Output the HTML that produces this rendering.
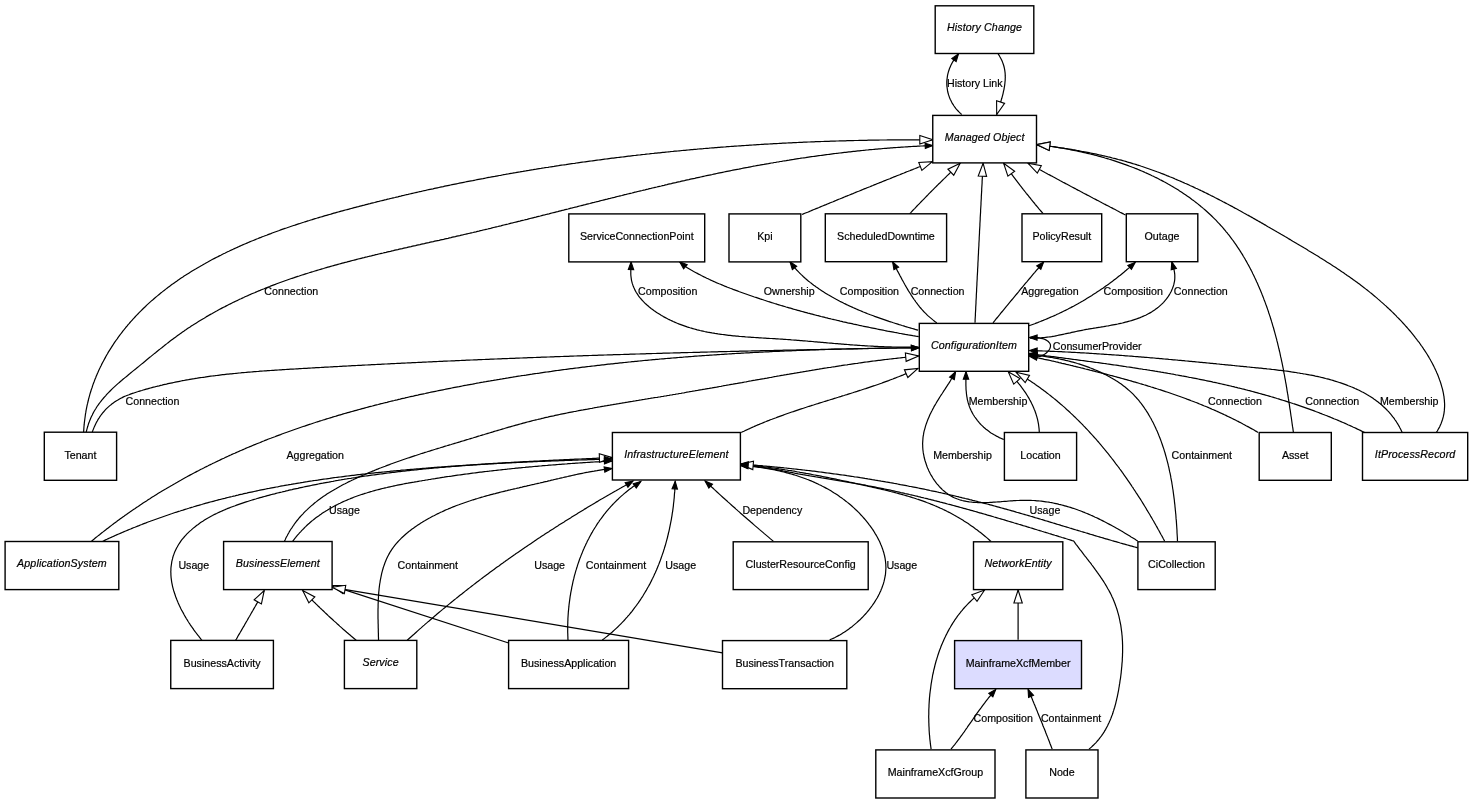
<!DOCTYPE html><html><head><meta charset="utf-8"><style>html,body{margin:0;padding:0;background:#fff;overflow:hidden}svg{display:block;will-change:transform}text{font-family:"Liberation Sans",sans-serif;font-size:10.67px;fill:#000;stroke:#000;stroke-width:0.2px}.i{font-style:italic;letter-spacing:0.12px}</style></head><body>
<svg width="1473" height="804" viewBox="0 0 1473 804">
<g fill="none" stroke="#000" stroke-width="1.2">
<path d="M961.7,114.5L960.4,113.4L959.2,112.2L958.1,111.0L957.0,109.8L955.9,108.6L955.0,107.3L954.0,106.0L953.2,104.7L952.3,103.4L951.6,102.0L950.9,100.6L950.2,99.2L949.6,97.8L949.1,96.4L948.6,94.9L948.2,93.5L947.8,92.0L947.5,90.5L947.3,89.0L947.1,87.5L946.9,86.1L946.8,84.6L946.8,83.1L946.8,81.6L946.9,80.1L947.1,78.6L947.3,77.1L947.5,75.6L947.8,74.1L948.2,72.7L948.6,71.2L949.1,69.8L949.6,68.3L950.2,66.9L950.8,65.5L951.5,64.1L952.2,62.8L953.0,61.4L953.8,60.1L954.7,58.8L955.6,57.6L956.5,56.3L957.5,55.1L958.5,53.9"/>
<path d="M998.1,53.9L999.1,55.3L999.9,56.8L1000.7,58.2L1001.5,59.7L1002.1,61.1L1002.7,62.6L1003.2,64.0L1003.7,65.5L1004.1,67.0L1004.4,68.4L1004.7,69.9L1004.9,71.4L1005.1,72.9L1005.2,74.4L1005.2,75.9L1005.3,77.4L1005.2,78.8L1005.2,80.3L1005.0,81.8L1004.9,83.3L1004.7,84.8L1004.5,86.3L1004.2,87.8L1004.0,89.3L1003.6,90.8L1003.3,92.3L1003.0,93.8L1002.6,95.3L1002.2,96.8L1001.8,98.3L1001.3,99.8L1000.9,101.3L1000.4,102.8L1000.0,104.2L999.5,105.7L999.0,107.2L998.6,108.7L998.1,110.1L997.6,111.6L997.2,113.0L996.7,114.5"/>
<path d="M83.6,432.5L83.7,430.9L83.8,429.4L83.9,427.8L84.0,426.2L84.2,424.7L84.3,423.1L84.5,421.6L84.7,420.0L84.9,418.5L85.1,417.0L85.3,415.5L85.5,413.9L85.8,412.4L86.0,410.9L86.3,409.4L86.6,407.9L86.9,406.4L87.2,404.9L87.6,403.4L87.9,402.0L88.3,400.5L88.6,399.0L89.0,397.6L89.4,396.1L89.8,394.7L90.2,393.2L90.7,391.8L91.1,390.3L91.6,388.9L92.1,387.5L92.5,386.1L93.0,384.6L93.5,383.2L94.1,381.8L94.6,380.4L95.1,379.0L95.7,377.7L96.2,376.3L96.8,374.9L97.4,373.5L98.0,372.2L98.6,370.8L99.2,369.5L99.9,368.1L100.5,366.8L101.2,365.4L101.8,364.1L102.5,362.8L103.2,361.5L103.9,360.2L104.6,358.9L105.3,357.6L106.0,356.3L106.7,355.0L107.5,353.7L108.2,352.4L109.0,351.1L109.8,349.9L110.6,348.6L111.4,347.4L112.2,346.1L113.0,344.9L113.8,343.6L114.6,342.4L115.5,341.2L116.3,340.0L117.2,338.8L118.0,337.6L118.9,336.4L119.8,335.2L120.7,334.0L121.6,332.8L122.5,331.6L123.4,330.5L124.3,329.3L125.3,328.2L126.2,327.0L127.2,325.9L128.1,324.7L129.1,323.6L130.0,322.5L131.0,321.4L132.0,320.3L133.0,319.2L134.0,318.1L135.0,317.0L136.0,315.9L137.0,314.8L138.1,313.8L139.1,312.7L140.2,311.6L141.2,310.6L142.3,309.5L143.3,308.5L144.4,307.5L145.5,306.5L146.5,305.4L147.6,304.4L148.7,303.4L149.8,302.4L150.9,301.4L152.0,300.4L153.2,299.5L154.3,298.5L155.4,297.5L156.5,296.6L157.7,295.6L158.8,294.7L160.0,293.7L161.1,292.8L162.3,291.9L163.5,290.9L164.7,290.0L165.8,289.1L167.0,288.2L168.2,287.3L169.4,286.4L170.6,285.5L171.8,284.6L173.0,283.8L174.2,282.9L175.5,282.0L176.7,281.2L177.9,280.3L179.1,279.5L180.4,278.6L181.6,277.8L182.9,277.0L184.1,276.1L185.4,275.3L186.6,274.5L187.9,273.7L189.2,272.9L190.5,272.1L191.7,271.3L193.0,270.5L194.3,269.7L195.6,269.0L196.9,268.2L198.2,267.4L199.5,266.7L200.8,265.9L202.1,265.2L203.4,264.4L204.7,263.7L206.0,262.9L207.4,262.2L208.7,261.5L210.0,260.8L211.3,260.1L212.7,259.3L214.0,258.6L215.4,257.9L216.7,257.2L218.0,256.6L219.4,255.9L220.8,255.2L222.1,254.5L223.5,253.8L224.8,253.2L226.2,252.5L227.6,251.8L228.9,251.2L230.3,250.5L231.7,249.9L233.0,249.3L234.4,248.6L235.8,248.0L237.2,247.4L238.6,246.7L239.9,246.1L241.3,245.5L242.7,244.9L244.1,244.3L245.5,243.7L246.9,243.1L248.3,242.5L249.7,241.9L251.1,241.3L252.5,240.8L253.9,240.2L255.3,239.6L256.7,239.0L258.1,238.5L259.5,237.9L260.9,237.4L262.3,236.8L263.7,236.3L265.1,235.7L266.6,235.2L268.0,234.6L269.4,234.1L270.8,233.6L272.2,233.0L273.6,232.5L275.0,232.0L276.5,231.5L277.9,231.0L279.3,230.5L280.7,229.9L282.1,229.4L283.6,228.9L285.0,228.4L286.4,228.0L287.8,227.5L289.3,227.0L290.7,226.5L292.1,226.0L293.6,225.5L295.0,225.1L296.4,224.6L297.8,224.1L299.3,223.7L300.7,223.2L302.1,222.7L303.6,222.3L305.0,221.8L306.4,221.4L307.9,220.9L309.3,220.5L310.8,220.0L312.2,219.6L313.6,219.1L315.1,218.7L316.5,218.3L318.0,217.8L319.4,217.4L320.8,217.0L322.3,216.6L323.7,216.1L325.2,215.7L326.6,215.3L328.1,214.9L329.5,214.5L330.9,214.1L332.4,213.6L333.8,213.2L335.3,212.8L336.7,212.4L338.2,212.0L339.6,211.6L341.1,211.2L342.5,210.8L344.0,210.4L345.4,210.0L346.9,209.7L348.3,209.3L349.8,208.9L351.2,208.5L352.7,208.1L354.1,207.7L355.6,207.3L357.1,206.9L358.5,206.6L360.0,206.2L361.4,205.8L362.9,205.4L364.3,205.1L365.8,204.7L367.2,204.3L368.7,203.9L370.1,203.6L371.6,203.2L373.1,202.8L374.5,202.5L376.0,202.1L377.4,201.7L378.9,201.4L380.3,201.0L381.8,200.7L383.3,200.3L384.7,199.9L386.2,199.6L387.6,199.2L389.1,198.9L390.6,198.5L392.0,198.2L393.5,197.8L394.9,197.5L396.4,197.1L397.9,196.8L399.3,196.4L400.8,196.1L402.2,195.7L403.7,195.4L405.2,195.0L406.6,194.7L408.1,194.4L409.6,194.0L411.0,193.7L412.5,193.3L413.9,193.0L415.4,192.7L416.9,192.3L418.3,192.0L419.8,191.7L421.3,191.4L422.7,191.0L424.2,190.7L425.7,190.4L427.1,190.0L428.6,189.7L430.1,189.4L431.5,189.1L433.0,188.8L434.5,188.4L435.9,188.1L437.4,187.8L438.9,187.5L440.3,187.2L441.8,186.9L443.3,186.6L444.7,186.2L446.2,185.9L447.7,185.6L449.1,185.3L450.6,185.0L452.1,184.7L453.6,184.4L455.0,184.1L456.5,183.8L458.0,183.5L459.4,183.2L460.9,182.9L462.4,182.6L463.8,182.3L465.3,182.0L466.8,181.7L468.3,181.4L469.7,181.1L471.2,180.8L472.7,180.6L474.2,180.3L475.6,180.0L477.1,179.7L478.6,179.4L480.1,179.1L481.5,178.8L483.0,178.6L484.5,178.3L485.9,178.0L487.4,177.7L488.9,177.4L490.4,177.2L491.8,176.9L493.3,176.6L494.8,176.4L496.3,176.1L497.8,175.8L499.2,175.5L500.7,175.3L502.2,175.0L503.7,174.7L505.1,174.5L506.6,174.2L508.1,174.0L509.6,173.7L511.1,173.4L512.5,173.2L514.0,172.9L515.5,172.7L517.0,172.4L518.4,172.1L519.9,171.9L521.4,171.6L522.9,171.4L524.4,171.1L525.8,170.9L527.3,170.6L528.8,170.4L530.3,170.1L531.8,169.9L533.2,169.7L534.7,169.4L536.2,169.2L537.7,168.9L539.2,168.7L540.7,168.5L542.1,168.2L543.6,168.0L545.1,167.7L546.6,167.5L548.1,167.3L549.6,167.0L551.0,166.8L552.5,166.6L554.0,166.4L555.5,166.1L557.0,165.9L558.5,165.7L559.9,165.4L561.4,165.2L562.9,165.0L564.4,164.8L565.9,164.6L567.4,164.3L568.8,164.1L570.3,163.9L571.8,163.7L573.3,163.5L574.8,163.3L576.3,163.0L577.8,162.8L579.2,162.6L580.7,162.4L582.2,162.2L583.7,162.0L585.2,161.8L586.7,161.6L588.2,161.4L589.7,161.2L591.1,161.0L592.6,160.8L594.1,160.6L595.6,160.4L597.1,160.2L598.6,160.0L600.1,159.8L601.6,159.6L603.1,159.4L604.5,159.2L606.0,159.0L607.5,158.8L609.0,158.6L610.5,158.4L612.0,158.2L613.5,158.1L615.0,157.9L616.5,157.7L617.9,157.5L619.4,157.3L620.9,157.1L622.4,157.0L623.9,156.8L625.4,156.6L626.9,156.4L628.4,156.2L629.9,156.1L631.4,155.9L632.9,155.7L634.4,155.5L635.8,155.4L637.3,155.2L638.8,155.0L640.3,154.9L641.8,154.7L643.3,154.5L644.8,154.4L646.3,154.2L647.8,154.0L649.3,153.9L650.8,153.7L652.3,153.5L653.8,153.4L655.2,153.2L656.7,153.1L658.2,152.9L659.7,152.8L661.2,152.6L662.7,152.4L664.2,152.3L665.7,152.1L667.2,152.0L668.7,151.8L670.2,151.7L671.7,151.5L673.2,151.4L674.7,151.2L676.2,151.1L677.7,151.0L679.2,150.8L680.7,150.7L682.2,150.5L683.6,150.4L685.1,150.3L686.6,150.1L688.1,150.0L689.6,149.8L691.1,149.7L692.6,149.6L694.1,149.4L695.6,149.3L697.1,149.2L698.6,149.0L700.1,148.9L701.6,148.8L703.1,148.7L704.6,148.5L706.1,148.4L707.6,148.3L709.1,148.2L710.6,148.0L712.1,147.9L713.6,147.8L715.1,147.7L716.6,147.6L718.1,147.4L719.6,147.3L721.1,147.2L722.6,147.1L724.1,147.0L725.6,146.9L727.1,146.7L728.6,146.6L730.1,146.5L731.6,146.4L733.1,146.3L734.6,146.2L736.1,146.1L737.6,146.0L739.1,145.9L740.6,145.8L742.1,145.7L743.6,145.6L745.1,145.5L746.6,145.4L748.1,145.3L749.6,145.2L751.1,145.1L752.6,145.0L754.1,144.9L755.6,144.8L757.1,144.7L758.6,144.6L760.1,144.5L761.6,144.4L763.1,144.3L764.6,144.2L766.1,144.1L767.6,144.1L769.1,144.0L770.6,143.9L772.1,143.8L773.6,143.7L775.1,143.6L776.6,143.6L778.1,143.5L779.6,143.4L781.1,143.3L782.6,143.2L784.1,143.2L785.6,143.1L787.1,143.0L788.6,142.9L790.1,142.9L791.6,142.8L793.1,142.7L794.6,142.6L796.1,142.6L797.6,142.5L799.1,142.4L800.6,142.4L802.1,142.3L803.6,142.2L805.1,142.2L806.6,142.1L808.1,142.0L809.6,142.0L811.1,141.9L812.6,141.9L814.1,141.8L815.6,141.7L817.1,141.7L818.6,141.6L820.1,141.6L821.6,141.5L823.1,141.5L824.6,141.4L826.1,141.4L827.6,141.3L829.1,141.3L830.6,141.2L832.1,141.2L833.6,141.1L835.1,141.1L836.6,141.0L838.1,141.0L839.6,140.9L841.1,140.9L842.6,140.8L844.1,140.8L845.6,140.8L847.1,140.7L848.6,140.7L850.1,140.6L851.7,140.6L853.2,140.6L854.7,140.5L856.2,140.5L857.7,140.5L859.2,140.4L860.7,140.4L862.2,140.4L863.7,140.3L865.2,140.3L866.7,140.3L868.2,140.2L869.7,140.2L871.2,140.2L872.7,140.2L874.2,140.1L875.7,140.1L877.2,140.1L878.7,140.1L880.2,140.0L881.7,140.0L883.2,140.0L884.7,140.0L886.2,140.0L887.7,139.9L889.2,139.9L890.7,139.9L892.2,139.9L893.7,139.9L895.2,139.9L896.7,139.9L898.2,139.8L899.7,139.8L901.2,139.8L902.7,139.8L904.2,139.8L905.8,139.8L907.3,139.8L908.8,139.8L910.3,139.8L911.8,139.8L913.3,139.8L914.8,139.8L916.3,139.8L917.8,139.8L919.3,139.8L920.8,139.8L922.3,139.8L923.8,139.8L925.3,139.8L926.8,139.8L928.3,139.8L929.8,139.8L931.3,139.8L932.8,139.8"/>
<path d="M86.2,432.5L86.5,430.9L86.9,429.3L87.3,427.8L87.8,426.3L88.2,424.8L88.7,423.3L89.3,421.8L89.8,420.4L90.4,419.0L91.0,417.6L91.6,416.3L92.3,414.9L92.9,413.6L93.6,412.3L94.3,411.0L95.1,409.7L95.9,408.5L96.6,407.3L97.4,406.0L98.3,404.8L99.1,403.7L100.0,402.5L100.9,401.3L101.8,400.2L102.7,399.1L103.6,398.0L104.6,396.9L105.6,395.8L106.5,394.7L107.5,393.6L108.5,392.6L109.6,391.5L110.6,390.5L111.7,389.4L112.7,388.4L113.8,387.4L114.9,386.4L116.0,385.4L117.1,384.4L118.2,383.4L119.3,382.5L120.4,381.5L121.6,380.5L122.7,379.5L123.9,378.6L125.0,377.6L126.2,376.7L127.4,375.7L128.5,374.7L129.7,373.8L130.9,372.8L132.0,371.9L133.2,370.9L134.4,369.9L135.6,369.0L136.8,368.0L138.0,367.1L139.1,366.1L140.3,365.1L141.5,364.1L142.7,363.2L143.9,362.2L145.1,361.2L146.2,360.3L147.4,359.3L148.6,358.3L149.8,357.3L151.0,356.4L152.2,355.4L153.4,354.4L154.6,353.4L155.8,352.5L157.0,351.5L158.2,350.5L159.4,349.6L160.6,348.6L161.8,347.7L163.0,346.7L164.2,345.8L165.4,344.8L166.6,343.9L167.8,342.9L169.0,342.0L170.2,341.1L171.5,340.1L172.7,339.2L173.9,338.3L175.1,337.4L176.4,336.5L177.6,335.6L178.8,334.7L180.1,333.8L181.3,332.9L182.5,332.1L183.8,331.2L185.0,330.3L186.3,329.5L187.5,328.6L188.8,327.8L190.1,327.0L191.3,326.1L192.6,325.3L193.8,324.5L195.1,323.7L196.4,322.9L197.7,322.1L198.9,321.3L200.2,320.5L201.5,319.7L202.8,318.9L204.1,318.2L205.4,317.4L206.6,316.6L207.9,315.9L209.2,315.1L210.5,314.4L211.8,313.7L213.1,312.9L214.4,312.2L215.7,311.5L217.1,310.8L218.4,310.0L219.7,309.3L221.0,308.6L222.3,307.9L223.6,307.2L225.0,306.6L226.3,305.9L227.6,305.2L228.9,304.5L230.3,303.9L231.6,303.2L232.9,302.5L234.3,301.9L235.6,301.2L237.0,300.6L238.3,300.0L239.6,299.3L241.0,298.7L242.3,298.1L243.7,297.5L245.0,296.8L246.4,296.2L247.8,295.6L249.1,295.0L250.5,294.4L251.8,293.8L253.2,293.2L254.6,292.7L255.9,292.1L257.3,291.5L258.7,290.9L260.1,290.4L261.4,289.8L262.8,289.2L264.2,288.7L265.6,288.1L267.0,287.6L268.3,287.0L269.7,286.5L271.1,285.9L272.5,285.4L273.9,284.9L275.3,284.4L276.7,283.8L278.1,283.3L279.5,282.8L280.9,282.3L282.3,281.8L283.7,281.3L285.1,280.8L286.5,280.3L287.9,279.8L289.3,279.3L290.7,278.8L292.1,278.3L293.5,277.9L294.9,277.4L296.3,276.9L297.8,276.4L299.2,276.0L300.6,275.5L302.0,275.0L303.4,274.6L304.9,274.1L306.3,273.7L307.7,273.2L309.1,272.8L310.6,272.3L312.0,271.9L313.4,271.5L314.9,271.0L316.3,270.6L317.7,270.2L319.1,269.7L320.6,269.3L322.0,268.9L323.5,268.5L324.9,268.0L326.3,267.6L327.8,267.2L329.2,266.8L330.7,266.4L332.1,266.0L333.6,265.6L335.0,265.2L336.4,264.8L337.9,264.4L339.3,264.0L340.8,263.6L342.2,263.2L343.7,262.8L345.1,262.4L346.6,262.1L348.1,261.7L349.5,261.3L351.0,260.9L352.4,260.5L353.9,260.2L355.3,259.8L356.8,259.4L358.2,259.0L359.7,258.7L361.2,258.3L362.6,257.9L364.1,257.6L365.6,257.2L367.0,256.9L368.5,256.5L369.9,256.1L371.4,255.8L372.9,255.4L374.3,255.1L375.8,254.7L377.3,254.4L378.7,254.0L380.2,253.7L381.7,253.3L383.1,253.0L384.6,252.6L386.1,252.3L387.6,251.9L389.0,251.6L390.5,251.3L392.0,250.9L393.4,250.6L394.9,250.2L396.4,249.9L397.9,249.6L399.3,249.2L400.8,248.9L402.3,248.6L403.8,248.2L405.2,247.9L406.7,247.6L408.2,247.2L409.7,246.9L411.1,246.6L412.6,246.2L414.1,245.9L415.6,245.6L417.0,245.2L418.5,244.9L420.0,244.6L421.5,244.2L422.9,243.9L424.4,243.6L425.9,243.2L427.4,242.9L428.8,242.6L430.3,242.2L431.8,241.9L433.3,241.6L434.7,241.2L436.2,240.9L437.7,240.6L439.2,240.3L440.6,239.9L442.1,239.6L443.6,239.3L445.1,238.9L446.5,238.6L448.0,238.3L449.5,237.9L451.0,237.6L452.4,237.2L453.9,236.9L455.4,236.6L456.8,236.2L458.3,235.9L459.8,235.6L461.3,235.2L462.7,234.9L464.2,234.5L465.7,234.2L467.1,233.8L468.6,233.5L470.1,233.2L471.5,232.8L473.0,232.5L474.5,232.1L476.0,231.8L477.4,231.4L478.9,231.1L480.4,230.7L481.8,230.4L483.3,230.0L484.8,229.7L486.2,229.3L487.7,229.0L489.1,228.6L490.6,228.3L492.1,227.9L493.5,227.5L495.0,227.2L496.5,226.8L497.9,226.5L499.4,226.1L500.9,225.8L502.3,225.4L503.8,225.0L505.3,224.7L506.7,224.3L508.2,224.0L509.6,223.6L511.1,223.2L512.6,222.9L514.0,222.5L515.5,222.2L516.9,221.8L518.4,221.4L519.9,221.1L521.3,220.7L522.8,220.3L524.2,220.0L525.7,219.6L527.2,219.3L528.6,218.9L530.1,218.5L531.5,218.2L533.0,217.8L534.5,217.4L535.9,217.1L537.4,216.7L538.8,216.3L540.3,216.0L541.7,215.6L543.2,215.2L544.7,214.9L546.1,214.5L547.6,214.1L549.0,213.8L550.5,213.4L551.9,213.0L553.4,212.7L554.9,212.3L556.3,211.9L557.8,211.6L559.2,211.2L560.7,210.8L562.1,210.4L563.6,210.1L565.1,209.7L566.5,209.3L568.0,209.0L569.4,208.6L570.9,208.2L572.3,207.9L573.8,207.5L575.2,207.1L576.7,206.8L578.2,206.4L579.6,206.0L581.1,205.7L582.5,205.3L584.0,204.9L585.4,204.6L586.9,204.2L588.3,203.8L589.8,203.5L591.2,203.1L592.7,202.7L594.2,202.4L595.6,202.0L597.1,201.6L598.5,201.3L600.0,200.9L601.4,200.5L602.9,200.2L604.3,199.8L605.8,199.4L607.3,199.1L608.7,198.7L610.2,198.4L611.6,198.0L613.1,197.6L614.5,197.3L616.0,196.9L617.4,196.5L618.9,196.2L620.4,195.8L621.8,195.5L623.3,195.1L624.7,194.7L626.2,194.4L627.6,194.0L629.1,193.7L630.5,193.3L632.0,193.0L633.5,192.6L634.9,192.2L636.4,191.9L637.8,191.5L639.3,191.2L640.7,190.8L642.2,190.5L643.7,190.1L645.1,189.8L646.6,189.4L648.0,189.1L649.5,188.7L650.9,188.4L652.4,188.0L653.9,187.7L655.3,187.3L656.8,187.0L658.2,186.6L659.7,186.3L661.2,186.0L662.6,185.6L664.1,185.3L665.5,184.9L667.0,184.6L668.4,184.2L669.9,183.9L671.4,183.6L672.8,183.2L674.3,182.9L675.7,182.6L677.2,182.2L678.7,181.9L680.1,181.6L681.6,181.2L683.1,180.9L684.5,180.6L686.0,180.2L687.4,179.9L688.9,179.6L690.4,179.2L691.8,178.9L693.3,178.6L694.8,178.3L696.2,177.9L697.7,177.6L699.2,177.3L700.6,177.0L702.1,176.7L703.5,176.3L705.0,176.0L706.5,175.7L707.9,175.4L709.4,175.1L710.9,174.8L712.3,174.5L713.8,174.1L715.3,173.8L716.7,173.5L718.2,173.2L719.7,172.9L721.2,172.6L722.6,172.3L724.1,172.0L725.6,171.7L727.0,171.4L728.5,171.1L730.0,170.8L731.4,170.5L732.9,170.2L734.4,169.9L735.9,169.6L737.3,169.3L738.8,169.1L740.3,168.8L741.8,168.5L743.2,168.2L744.7,167.9L746.2,167.6L747.7,167.4L749.1,167.1L750.6,166.8L752.1,166.5L753.6,166.2L755.0,166.0L756.5,165.7L758.0,165.4L759.5,165.2L760.9,164.9L762.4,164.6L763.9,164.4L765.4,164.1L766.9,163.8L768.4,163.6L769.8,163.3L771.3,163.0L772.8,162.8L774.3,162.5L775.8,162.3L777.2,162.0L778.7,161.8L780.2,161.5L781.7,161.3L783.2,161.0L784.7,160.8L786.2,160.6L787.6,160.3L789.1,160.1L790.6,159.8L792.1,159.6L793.6,159.4L795.1,159.1L796.6,158.9L798.1,158.7L799.5,158.5L801.0,158.2L802.5,158.0L804.0,157.8L805.5,157.6L807.0,157.3L808.5,157.1L810.0,156.9L811.5,156.7L813.0,156.5L814.5,156.3L816.0,156.1L817.4,155.9L818.9,155.7L820.4,155.5L821.9,155.3L823.4,155.1L824.9,154.9L826.4,154.7L827.9,154.5L829.4,154.3L830.9,154.1L832.4,153.9L833.9,153.7L835.4,153.5L836.9,153.3L838.4,153.2L839.9,153.0L841.4,152.8L842.9,152.6L844.4,152.4L845.9,152.3L847.4,152.1L848.8,151.9L850.3,151.8L851.8,151.6L853.3,151.4L854.8,151.3L856.3,151.1L857.8,150.9L859.3,150.8L860.8,150.6L862.3,150.5L863.8,150.3L865.3,150.2L866.8,150.0L868.3,149.9L869.8,149.7L871.3,149.6L872.8,149.5L874.3,149.3L875.8,149.2L877.3,149.1L878.8,148.9L880.3,148.8L881.8,148.7L883.3,148.5L884.8,148.4L886.3,148.3L887.8,148.2L889.3,148.1L890.8,147.9L892.3,147.8L893.8,147.7L895.3,147.6L896.8,147.5L898.3,147.4L899.8,147.3L901.3,147.2L902.8,147.1L904.3,147.0L905.8,146.9L907.3,146.8L908.8,146.7L910.3,146.6L911.8,146.5L913.3,146.4L914.8,146.3L916.3,146.3L917.8,146.2L919.3,146.1L920.8,146.0L922.3,146.0L923.8,145.9L925.3,145.8L926.8,145.7L928.3,145.7L929.8,145.6L931.3,145.6L932.8,145.5"/>
<path d="M92.2,432.5L92.7,430.9L93.3,429.4L93.9,427.9L94.5,426.4L95.2,424.9L95.9,423.5L96.6,422.1L97.4,420.7L98.1,419.4L99.0,418.1L99.8,416.8L100.7,415.5L101.6,414.3L102.5,413.1L103.5,412.0L104.5,410.8L105.5,409.7L106.5,408.7L107.6,407.6L108.7,406.6L109.8,405.6L111.0,404.7L112.1,403.8L113.3,402.9L114.5,402.0L115.7,401.2L117.0,400.4L118.3,399.7L119.5,398.9L120.8,398.2L122.2,397.6L123.5,396.9L124.9,396.3L126.2,395.8L127.6,395.2L129.0,394.7L130.4,394.1L131.8,393.6L133.2,393.2L134.6,392.7L136.1,392.2L137.5,391.8L138.9,391.3L140.4,390.9L141.8,390.5L143.2,390.0L144.7,389.6L146.1,389.2L147.6,388.8L149.0,388.4L150.5,388.0L151.9,387.6L153.4,387.2L154.8,386.9L156.3,386.5L157.7,386.1L159.2,385.8L160.6,385.4L162.1,385.1L163.5,384.7L165.0,384.4L166.5,384.1L167.9,383.7L169.4,383.4L170.8,383.1L172.3,382.8L173.8,382.5L175.2,382.2L176.7,381.9L178.2,381.6L179.6,381.3L181.1,381.0L182.6,380.7L184.0,380.5L185.5,380.2L187.0,379.9L188.5,379.7L189.9,379.4L191.4,379.1L192.9,378.9L194.4,378.7L195.9,378.4L197.3,378.2L198.8,377.9L200.3,377.7L201.8,377.5L203.3,377.3L204.7,377.1L206.2,376.8L207.7,376.6L209.2,376.4L210.7,376.2L212.2,376.0L213.7,375.8L215.2,375.7L216.6,375.5L218.1,375.3L219.6,375.1L221.1,374.9L222.6,374.7L224.1,374.6L225.6,374.4L227.1,374.2L228.6,374.1L230.1,373.9L231.6,373.8L233.1,373.6L234.6,373.5L236.1,373.3L237.6,373.2L239.1,373.0L240.6,372.9L242.1,372.7L243.6,372.6L245.1,372.5L246.6,372.3L248.1,372.2L249.6,372.1L251.1,372.0L252.6,371.8L254.1,371.7L255.6,371.6L257.1,371.5L258.6,371.4L260.1,371.2L261.6,371.1L263.1,371.0L264.6,370.9L266.1,370.8L267.6,370.7L269.1,370.6L270.6,370.5L272.2,370.4L273.7,370.3L275.2,370.2L276.7,370.1L278.2,370.0L279.7,369.9L281.2,369.8L282.7,369.7L284.2,369.6L285.7,369.5L287.2,369.4L288.7,369.3L290.2,369.2L291.8,369.1L293.3,369.1L294.8,369.0L296.3,368.9L297.8,368.8L299.3,368.7L300.8,368.6L302.3,368.5L303.8,368.4L305.3,368.3L306.8,368.3L308.3,368.2L309.8,368.1L311.4,368.0L312.9,367.9L314.4,367.8L315.9,367.7L317.4,367.7L318.9,367.6L320.4,367.5L321.9,367.4L323.4,367.3L324.9,367.2L326.4,367.1L327.9,367.1L329.4,367.0L330.9,366.9L332.5,366.8L334.0,366.7L335.5,366.6L337.0,366.6L338.5,366.5L340.0,366.4L341.5,366.3L343.0,366.2L344.5,366.2L346.0,366.1L347.5,366.0L349.0,365.9L350.5,365.8L352.0,365.7L353.5,365.7L355.0,365.6L356.6,365.5L358.1,365.4L359.6,365.3L361.1,365.3L362.6,365.2L364.1,365.1L365.6,365.0L367.1,365.0L368.6,364.9L370.1,364.8L371.6,364.7L373.1,364.6L374.6,364.6L376.1,364.5L377.6,364.4L379.1,364.3L380.6,364.3L382.2,364.2L383.7,364.1L385.2,364.0L386.7,364.0L388.2,363.9L389.7,363.8L391.2,363.7L392.7,363.7L394.2,363.6L395.7,363.5L397.2,363.4L398.7,363.4L400.2,363.3L401.7,363.2L403.2,363.1L404.7,363.1L406.2,363.0L407.7,362.9L409.2,362.8L410.7,362.8L412.3,362.7L413.8,362.6L415.3,362.6L416.8,362.5L418.3,362.4L419.8,362.3L421.3,362.3L422.8,362.2L424.3,362.1L425.8,362.1L427.3,362.0L428.8,361.9L430.3,361.9L431.8,361.8L433.3,361.7L434.8,361.6L436.3,361.6L437.8,361.5L439.3,361.4L440.8,361.4L442.3,361.3L443.8,361.2L445.3,361.2L446.8,361.1L448.4,361.0L449.9,361.0L451.4,360.9L452.9,360.8L454.4,360.8L455.9,360.7L457.4,360.6L458.9,360.6L460.4,360.5L461.9,360.4L463.4,360.4L464.9,360.3L466.4,360.2L467.9,360.2L469.4,360.1L470.9,360.0L472.4,360.0L473.9,359.9L475.4,359.9L476.9,359.8L478.4,359.7L479.9,359.7L481.4,359.6L482.9,359.5L484.4,359.5L485.9,359.4L487.4,359.4L488.9,359.3L490.4,359.2L492.0,359.2L493.5,359.1L495.0,359.0L496.5,359.0L498.0,358.9L499.5,358.9L501.0,358.8L502.5,358.7L504.0,358.7L505.5,358.6L507.0,358.6L508.5,358.5L510.0,358.4L511.5,358.4L513.0,358.3L514.5,358.3L516.0,358.2L517.5,358.1L519.0,358.1L520.5,358.0L522.0,358.0L523.5,357.9L525.0,357.9L526.5,357.8L528.0,357.7L529.5,357.7L531.0,357.6L532.5,357.6L534.0,357.5L535.5,357.5L537.0,357.4L538.5,357.3L540.0,357.3L541.5,357.2L543.0,357.2L544.6,357.1L546.1,357.1L547.6,357.0L549.1,357.0L550.6,356.9L552.1,356.8L553.6,356.8L555.1,356.7L556.6,356.7L558.1,356.6L559.6,356.6L561.1,356.5L562.6,356.5L564.1,356.4L565.6,356.4L567.1,356.3L568.6,356.3L570.1,356.2L571.6,356.1L573.1,356.1L574.6,356.0L576.1,356.0L577.6,355.9L579.1,355.9L580.6,355.8L582.1,355.8L583.6,355.7L585.1,355.7L586.6,355.6L588.1,355.6L589.6,355.5L591.1,355.5L592.6,355.4L594.1,355.4L595.6,355.3L597.1,355.3L598.6,355.2L600.1,355.2L601.6,355.1L603.1,355.1L604.6,355.0L606.2,355.0L607.7,354.9L609.2,354.9L610.7,354.8L612.2,354.8L613.7,354.7L615.2,354.7L616.7,354.6L618.2,354.6L619.7,354.6L621.2,354.5L622.7,354.5L624.2,354.4L625.7,354.4L627.2,354.3L628.7,354.3L630.2,354.2L631.7,354.2L633.2,354.1L634.7,354.1L636.2,354.0L637.7,354.0L639.2,354.0L640.7,353.9L642.2,353.9L643.7,353.8L645.2,353.8L646.7,353.7L648.2,353.7L649.7,353.6L651.2,353.6L652.7,353.5L654.2,353.5L655.7,353.5L657.2,353.4L658.7,353.4L660.2,353.3L661.7,353.3L663.2,353.2L664.7,353.2L666.2,353.2L667.7,353.1L669.2,353.1L670.8,353.0L672.3,353.0L673.8,352.9L675.3,352.9L676.8,352.9L678.3,352.8L679.8,352.8L681.3,352.7L682.8,352.7L684.3,352.7L685.8,352.6L687.3,352.6L688.8,352.5L690.3,352.5L691.8,352.5L693.3,352.4L694.8,352.4L696.3,352.3L697.8,352.3L699.3,352.3L700.8,352.2L702.3,352.2L703.8,352.1L705.3,352.1L706.8,352.1L708.3,352.0L709.8,352.0L711.3,351.9L712.8,351.9L714.3,351.9L715.8,351.8L717.3,351.8L718.8,351.7L720.3,351.7L721.8,351.7L723.3,351.6L724.9,351.6L726.4,351.6L727.9,351.5L729.4,351.5L730.9,351.4L732.4,351.4L733.9,351.4L735.4,351.3L736.9,351.3L738.4,351.3L739.9,351.2L741.4,351.2L742.9,351.2L744.4,351.1L745.9,351.1L747.4,351.1L748.9,351.0L750.4,351.0L751.9,350.9L753.4,350.9L754.9,350.9L756.4,350.8L757.9,350.8L759.4,350.8L760.9,350.7L762.4,350.7L763.9,350.7L765.4,350.6L766.9,350.6L768.4,350.6L770.0,350.5L771.5,350.5L773.0,350.5L774.5,350.4L776.0,350.4L777.5,350.4L779.0,350.3L780.5,350.3L782.0,350.3L783.5,350.2L785.0,350.2L786.5,350.2L788.0,350.1L789.5,350.1L791.0,350.1L792.5,350.0L794.0,350.0L795.5,350.0L797.0,349.9L798.5,349.9L800.0,349.9L801.5,349.8L803.0,349.8L804.5,349.8L806.1,349.8L807.6,349.7L809.1,349.7L810.6,349.7L812.1,349.6L813.6,349.6L815.1,349.6L816.6,349.5L818.1,349.5L819.6,349.5L821.1,349.4L822.6,349.4L824.1,349.4L825.6,349.4L827.1,349.3L828.6,349.3L830.1,349.3L831.6,349.2L833.1,349.2L834.6,349.2L836.1,349.2L837.7,349.1L839.2,349.1L840.7,349.1L842.2,349.0L843.7,349.0L845.2,349.0L846.7,349.0L848.2,348.9L849.7,348.9L851.2,348.9L852.7,348.8L854.2,348.8L855.7,348.8L857.2,348.8L858.7,348.7L860.2,348.7L861.7,348.7L863.2,348.6L864.8,348.6L866.3,348.6L867.8,348.6L869.3,348.5L870.8,348.5L872.3,348.5L873.8,348.5L875.3,348.4L876.8,348.4L878.3,348.4L879.8,348.4L881.3,348.3L882.8,348.3L884.3,348.3L885.8,348.3L887.3,348.2L888.9,348.2L890.4,348.2L891.9,348.1L893.4,348.1L894.9,348.1L896.4,348.1L897.9,348.0L899.4,348.0L900.9,348.0L902.4,348.0L903.9,347.9L905.4,347.9L906.9,347.9L908.4,347.9L910.0,347.9L911.5,347.8L913.0,347.8L914.5,347.8L916.0,347.8L917.5,347.7L919.0,347.7"/>
<path d="M802.0,214.5L803.4,213.9L804.8,213.3L806.2,212.7L807.6,212.2L809.1,211.6L810.5,211.0L811.9,210.4L813.3,209.8L814.7,209.2L816.1,208.6L817.5,208.1L819.0,207.5L820.4,206.9L821.8,206.3L823.2,205.7L824.6,205.1L826.0,204.6L827.4,204.0L828.9,203.4L830.3,202.8L831.7,202.2L833.1,201.7L834.5,201.1L835.9,200.5L837.3,199.9L838.8,199.3L840.2,198.8L841.6,198.2L843.0,197.6L844.4,197.0L845.8,196.4L847.2,195.9L848.7,195.3L850.1,194.7L851.5,194.1L852.9,193.6L854.3,193.0L855.7,192.4L857.2,191.8L858.6,191.3L860.0,190.7L861.4,190.1L862.8,189.5L864.2,188.9L865.7,188.4L867.1,187.8L868.5,187.2L869.9,186.7L871.3,186.1L872.8,185.5L874.2,184.9L875.6,184.4L877.0,183.8L878.4,183.2L879.8,182.6L881.3,182.1L882.7,181.5L884.1,180.9L885.5,180.4L886.9,179.8L888.4,179.2L889.8,178.7L891.2,178.1L892.6,177.5L894.0,176.9L895.5,176.4L896.9,175.8L898.3,175.2L899.7,174.7L901.1,174.1L902.6,173.5L904.0,173.0L905.4,172.4L906.8,171.8L908.2,171.3L909.7,170.7L911.1,170.1L912.5,169.6L913.9,169.0L915.3,168.5L916.8,167.9L918.2,167.3L919.6,166.8L921.0,166.2L922.4,165.6L923.9,165.1L925.3,164.5L926.7,163.9L928.1,163.4L929.6,162.8L931.0,162.3L932.4,161.7"/>
<path d="M909.5,213.9L910.6,212.8L911.7,211.6L912.7,210.5L913.8,209.4L914.9,208.3L916.0,207.1L917.0,206.0L918.1,204.9L919.2,203.8L920.3,202.7L921.4,201.5L922.5,200.4L923.6,199.3L924.7,198.2L925.7,197.1L926.8,196.0L927.9,194.9L929.0,193.7L930.1,192.6L931.2,191.5L932.3,190.4L933.4,189.3L934.5,188.2L935.6,187.1L936.7,186.0L937.8,184.9L938.9,183.8L940.1,182.7L941.2,181.6L942.3,180.5L943.4,179.4L944.5,178.4L945.6,177.3L946.7,176.2L947.8,175.1L949.0,174.0L950.1,172.9L951.2,171.8L952.3,170.7L953.4,169.7L954.6,168.6L955.7,167.5L956.8,166.4L957.9,165.3L959.1,164.3L960.2,163.2"/>
<path d="M975.0,322.8L975.1,321.3L975.1,319.8L975.2,318.2L975.3,316.7L975.4,315.2L975.4,313.7L975.5,312.2L975.6,310.6L975.7,309.1L975.7,307.6L975.8,306.1L975.9,304.6L976.0,303.0L976.0,301.5L976.1,300.0L976.2,298.5L976.3,297.0L976.3,295.4L976.4,293.9L976.5,292.4L976.6,290.9L976.6,289.4L976.7,287.8L976.8,286.3L976.9,284.8L976.9,283.3L977.0,281.8L977.1,280.2L977.2,278.7L977.2,277.2L977.3,275.7L977.4,274.2L977.5,272.6L977.6,271.1L977.6,269.6L977.7,268.1L977.8,266.6L977.9,265.0L977.9,263.5L978.0,262.0L978.1,260.5L978.2,259.0L978.2,257.4L978.3,255.9L978.4,254.4L978.5,252.9L978.5,251.4L978.6,249.8L978.7,248.3L978.8,246.8L978.9,245.3L978.9,243.8L979.0,242.2L979.1,240.7L979.2,239.2L979.2,237.7L979.3,236.2L979.4,234.6L979.5,233.1L979.5,231.6L979.6,230.1L979.7,228.6L979.8,227.0L979.9,225.5L979.9,224.0L980.0,222.5L980.1,221.0L980.2,219.4L980.2,217.9L980.3,216.4L980.4,214.9L980.5,213.4L980.6,211.8L980.6,210.3L980.7,208.8L980.8,207.3L980.9,205.8L981.0,204.2L981.0,202.7L981.1,201.2L981.2,199.7L981.3,198.2L981.3,196.6L981.4,195.1L981.5,193.6L981.6,192.1L981.7,190.6L981.7,189.0L981.8,187.5L981.9,186.0L982.0,184.5L982.1,183.0L982.1,181.4L982.2,179.9L982.3,178.4L982.4,176.9L982.5,175.4L982.5,173.8L982.6,172.3L982.7,170.8L982.8,169.3L982.9,167.8L982.9,166.2L983.0,164.7L983.1,163.2"/>
<path d="M1043.3,213.9L1042.3,212.7L1041.3,211.5L1040.3,210.3L1039.2,209.1L1038.2,207.9L1037.2,206.7L1036.2,205.5L1035.2,204.3L1034.2,203.0L1033.2,201.8L1032.2,200.6L1031.2,199.4L1030.3,198.2L1029.3,197.0L1028.3,195.7L1027.3,194.5L1026.3,193.3L1025.3,192.0L1024.4,190.8L1023.4,189.6L1022.4,188.3L1021.5,187.1L1020.5,185.9L1019.5,184.6L1018.6,183.4L1017.6,182.1L1016.7,180.9L1015.7,179.6L1014.8,178.4L1013.8,177.1L1012.9,175.9L1012.0,174.6L1011.0,173.3L1010.1,172.1L1009.1,170.8L1008.2,169.6L1007.3,168.3L1006.4,167.0L1005.4,165.7L1004.5,164.5L1003.6,163.2"/>
<path d="M1125.5,215.0L1124.1,214.3L1122.8,213.6L1121.4,212.9L1120.0,212.2L1118.7,211.5L1117.3,210.8L1116.0,210.1L1114.6,209.3L1113.2,208.6L1111.9,207.9L1110.5,207.2L1109.2,206.5L1107.8,205.8L1106.4,205.1L1105.1,204.4L1103.7,203.7L1102.4,203.0L1101.0,202.2L1099.6,201.5L1098.3,200.8L1096.9,200.1L1095.6,199.4L1094.2,198.7L1092.8,198.0L1091.5,197.3L1090.1,196.5L1088.8,195.8L1087.4,195.1L1086.1,194.4L1084.7,193.7L1083.3,193.0L1082.0,192.2L1080.6,191.5L1079.3,190.8L1077.9,190.1L1076.6,189.4L1075.2,188.6L1073.8,187.9L1072.5,187.2L1071.1,186.5L1069.8,185.8L1068.4,185.0L1067.1,184.3L1065.7,183.6L1064.4,182.9L1063.0,182.2L1061.7,181.4L1060.3,180.7L1059.0,180.0L1057.6,179.3L1056.2,178.5L1054.9,177.8L1053.5,177.1L1052.2,176.3L1050.8,175.6L1049.5,174.9L1048.1,174.2L1046.8,173.4L1045.4,172.7L1044.1,172.0L1042.7,171.3L1041.4,170.5L1040.0,169.8L1038.7,169.1L1037.3,168.3L1036.0,167.6L1034.6,166.9L1033.3,166.1L1031.9,165.4L1030.6,164.7L1029.2,163.9L1027.9,163.2"/>
<path d="M1293.4,432.4L1293.2,430.9L1293.0,429.4L1292.8,427.9L1292.5,426.4L1292.3,424.9L1292.1,423.5L1291.9,422.0L1291.7,420.5L1291.5,419.0L1291.3,417.5L1291.0,416.0L1290.8,414.5L1290.6,413.0L1290.4,411.5L1290.2,410.1L1289.9,408.6L1289.7,407.1L1289.5,405.6L1289.3,404.1L1289.0,402.6L1288.8,401.2L1288.6,399.7L1288.3,398.2L1288.1,396.7L1287.9,395.2L1287.6,393.7L1287.4,392.3L1287.1,390.8L1286.9,389.3L1286.7,387.8L1286.4,386.3L1286.2,384.9L1285.9,383.4L1285.6,381.9L1285.4,380.4L1285.1,379.0L1284.8,377.5L1284.6,376.0L1284.3,374.5L1284.0,373.1L1283.7,371.6L1283.5,370.1L1283.2,368.6L1282.9,367.2L1282.6,365.7L1282.3,364.2L1282.0,362.7L1281.7,361.3L1281.4,359.8L1281.1,358.3L1280.7,356.9L1280.4,355.4L1280.1,353.9L1279.8,352.4L1279.4,351.0L1279.1,349.5L1278.7,348.0L1278.4,346.6L1278.0,345.1L1277.7,343.6L1277.3,342.2L1276.9,340.7L1276.6,339.2L1276.2,337.8L1275.8,336.3L1275.4,334.9L1275.0,333.4L1274.6,331.9L1274.2,330.5L1273.8,329.0L1273.4,327.5L1272.9,326.1L1272.5,324.6L1272.1,323.2L1271.6,321.7L1271.2,320.2L1270.7,318.8L1270.3,317.3L1269.8,315.9L1269.3,314.4L1268.8,313.0L1268.4,311.5L1267.9,310.1L1267.4,308.6L1266.9,307.2L1266.4,305.8L1265.8,304.3L1265.3,302.9L1264.8,301.4L1264.2,300.0L1263.7,298.6L1263.2,297.2L1262.6,295.7L1262.0,294.3L1261.5,292.9L1260.9,291.5L1260.3,290.1L1259.7,288.7L1259.1,287.3L1258.5,285.9L1257.9,284.5L1257.3,283.1L1256.6,281.7L1256.0,280.3L1255.4,278.9L1254.7,277.5L1254.1,276.2L1253.4,274.8L1252.7,273.4L1252.1,272.1L1251.4,270.7L1250.7,269.4L1250.0,268.0L1249.3,266.7L1248.6,265.4L1247.8,264.0L1247.1,262.7L1246.4,261.4L1245.6,260.1L1244.9,258.8L1244.1,257.5L1243.3,256.2L1242.6,254.9L1241.8,253.6L1241.0,252.4L1240.2,251.1L1239.4,249.8L1238.6,248.6L1237.7,247.3L1236.9,246.1L1236.1,244.9L1235.2,243.6L1234.3,242.4L1233.5,241.2L1232.6,240.0L1231.7,238.8L1230.8,237.6L1229.9,236.4L1229.0,235.2L1228.1,234.1L1227.2,232.9L1226.2,231.8L1225.3,230.6L1224.3,229.5L1223.4,228.4L1222.4,227.2L1221.4,226.1L1220.4,225.0L1219.4,223.9L1218.4,222.9L1217.4,221.8L1216.4,220.7L1215.4,219.7L1214.3,218.6L1213.3,217.6L1212.2,216.5L1211.2,215.5L1210.1,214.5L1209.0,213.5L1207.9,212.5L1206.8,211.5L1205.7,210.5L1204.6,209.5L1203.5,208.6L1202.4,207.6L1201.2,206.7L1200.1,205.7L1198.9,204.8L1197.8,203.9L1196.6,202.9L1195.4,202.0L1194.3,201.1L1193.1,200.2L1191.9,199.4L1190.7,198.5L1189.5,197.6L1188.3,196.7L1187.1,195.9L1185.8,195.0L1184.6,194.2L1183.4,193.4L1182.1,192.5L1180.9,191.7L1179.6,190.9L1178.4,190.1L1177.1,189.3L1175.8,188.5L1174.5,187.8L1173.3,187.0L1172.0,186.2L1170.7,185.5L1169.4,184.7L1168.1,184.0L1166.8,183.2L1165.5,182.5L1164.1,181.8L1162.8,181.1L1161.5,180.4L1160.1,179.7L1158.8,179.0L1157.5,178.3L1156.1,177.6L1154.7,177.0L1153.4,176.3L1152.0,175.7L1150.7,175.0L1149.3,174.4L1147.9,173.7L1146.5,173.1L1145.1,172.5L1143.8,171.9L1142.4,171.3L1141.0,170.7L1139.6,170.1L1138.2,169.5L1136.8,168.9L1135.3,168.4L1133.9,167.8L1132.5,167.3L1131.1,166.7L1129.7,166.2L1128.2,165.6L1126.8,165.1L1125.4,164.6L1123.9,164.1L1122.5,163.6L1121.1,163.1L1119.6,162.6L1118.2,162.1L1116.7,161.6L1115.3,161.1L1113.8,160.6L1112.4,160.2L1110.9,159.7L1109.4,159.3L1108.0,158.8L1106.5,158.4L1105.0,158.0L1103.6,157.5L1102.1,157.1L1100.6,156.7L1099.2,156.3L1097.7,155.9L1096.2,155.5L1094.7,155.1L1093.2,154.7L1091.8,154.4L1090.3,154.0L1088.8,153.6L1087.3,153.3L1085.8,152.9L1084.3,152.6L1082.9,152.3L1081.4,151.9L1079.9,151.6L1078.4,151.3L1076.9,151.0L1075.4,150.7L1073.9,150.3L1072.4,150.1L1070.9,149.8L1069.5,149.5L1068.0,149.2L1066.5,148.9L1065.0,148.7L1063.5,148.4L1062.0,148.1L1060.5,147.9L1059.0,147.6L1057.5,147.4L1056.1,147.2L1054.6,146.9L1053.1,146.7L1051.6,146.5L1050.1,146.3L1048.6,146.1L1047.1,145.9L1045.7,145.7L1044.2,145.5L1042.7,145.3L1041.2,145.1L1039.8,144.9L1038.3,144.8L1036.8,144.6"/>
<path d="M1436.4,432.4L1437.3,431.0L1438.1,429.5L1438.9,428.1L1439.7,426.7L1440.3,425.3L1441.0,423.8L1441.5,422.4L1442.0,421.0L1442.5,419.5L1442.9,418.1L1443.3,416.7L1443.6,415.2L1443.9,413.8L1444.1,412.4L1444.3,410.9L1444.4,409.5L1444.5,408.1L1444.6,406.6L1444.6,405.2L1444.6,403.8L1444.5,402.4L1444.4,400.9L1444.3,399.5L1444.1,398.1L1444.0,396.7L1443.7,395.3L1443.5,393.9L1443.2,392.4L1442.9,391.0L1442.6,389.6L1442.2,388.2L1441.8,386.8L1441.4,385.4L1441.0,384.0L1440.6,382.6L1440.1,381.2L1439.6,379.9L1439.1,378.5L1438.6,377.1L1438.1,375.7L1437.5,374.3L1436.9,373.0L1436.3,371.6L1435.7,370.3L1435.1,368.9L1434.4,367.5L1433.8,366.2L1433.1,364.9L1432.4,363.5L1431.7,362.2L1430.9,360.8L1430.2,359.5L1429.4,358.2L1428.7,356.9L1427.9,355.6L1427.1,354.3L1426.3,353.0L1425.4,351.7L1424.6,350.4L1423.7,349.1L1422.9,347.8L1422.0,346.5L1421.1,345.3L1420.2,344.0L1419.3,342.7L1418.4,341.5L1417.4,340.3L1416.5,339.0L1415.5,337.8L1414.6,336.6L1413.6,335.3L1412.6,334.1L1411.6,332.9L1410.6,331.7L1409.6,330.5L1408.6,329.3L1407.6,328.2L1406.6,327.0L1405.5,325.8L1404.5,324.7L1403.4,323.5L1402.4,322.4L1401.3,321.2L1400.3,320.1L1399.2,319.0L1398.1,317.9L1397.0,316.8L1396.0,315.7L1394.9,314.6L1393.8,313.5L1392.7,312.4L1391.6,311.4L1390.5,310.3L1389.4,309.3L1388.3,308.2L1387.2,307.2L1386.1,306.1L1384.9,305.1L1383.8,304.1L1382.7,303.1L1381.5,302.1L1380.4,301.1L1379.3,300.1L1378.1,299.1L1377.0,298.1L1375.8,297.1L1374.7,296.2L1373.5,295.2L1372.4,294.3L1371.2,293.3L1370.0,292.4L1368.8,291.4L1367.7,290.5L1366.5,289.6L1365.3,288.6L1364.1,287.7L1362.9,286.8L1361.8,285.9L1360.6,285.0L1359.4,284.1L1358.2,283.2L1357.0,282.3L1355.8,281.4L1354.5,280.6L1353.3,279.7L1352.1,278.8L1350.9,277.9L1349.7,277.1L1348.5,276.2L1347.2,275.4L1346.0,274.5L1344.8,273.7L1343.6,272.8L1342.3,272.0L1341.1,271.2L1339.8,270.3L1338.6,269.5L1337.4,268.7L1336.1,267.8L1334.9,267.0L1333.6,266.2L1332.4,265.4L1331.1,264.6L1329.9,263.8L1328.6,263.0L1327.3,262.2L1326.1,261.4L1324.8,260.6L1323.5,259.8L1322.3,259.0L1321.0,258.2L1319.7,257.4L1318.5,256.6L1317.2,255.8L1315.9,255.1L1314.6,254.3L1313.4,253.5L1312.1,252.7L1310.8,251.9L1309.5,251.2L1308.2,250.4L1307.0,249.6L1305.7,248.8L1304.4,248.1L1303.1,247.3L1301.8,246.5L1300.5,245.8L1299.2,245.0L1297.9,244.2L1296.7,243.5L1295.4,242.7L1294.1,241.9L1292.8,241.2L1291.5,240.4L1290.2,239.6L1288.9,238.9L1287.6,238.1L1286.3,237.3L1285.0,236.6L1283.7,235.8L1282.4,235.0L1281.1,234.3L1279.8,233.5L1278.5,232.7L1277.2,232.0L1275.9,231.2L1274.6,230.5L1273.3,229.7L1272.0,228.9L1270.7,228.2L1269.4,227.4L1268.0,226.7L1266.7,225.9L1265.4,225.1L1264.1,224.4L1262.8,223.6L1261.5,222.9L1260.2,222.1L1258.9,221.4L1257.5,220.6L1256.2,219.9L1254.9,219.1L1253.6,218.4L1252.3,217.6L1251.0,216.9L1249.6,216.1L1248.3,215.4L1247.0,214.7L1245.7,213.9L1244.3,213.2L1243.0,212.5L1241.7,211.7L1240.4,211.0L1239.0,210.3L1237.7,209.5L1236.4,208.8L1235.0,208.1L1233.7,207.4L1232.4,206.6L1231.0,205.9L1229.7,205.2L1228.4,204.5L1227.0,203.8L1225.7,203.1L1224.4,202.4L1223.0,201.7L1221.7,201.0L1220.3,200.3L1219.0,199.6L1217.6,198.9L1216.3,198.2L1214.9,197.5L1213.6,196.8L1212.2,196.1L1210.9,195.5L1209.5,194.8L1208.2,194.1L1206.8,193.4L1205.5,192.8L1204.1,192.1L1202.7,191.4L1201.4,190.8L1200.0,190.1L1198.7,189.5L1197.3,188.8L1195.9,188.2L1194.6,187.6L1193.2,186.9L1191.8,186.3L1190.4,185.7L1189.1,185.0L1187.7,184.4L1186.3,183.8L1184.9,183.2L1183.6,182.6L1182.2,182.0L1180.8,181.4L1179.4,180.8L1178.0,180.2L1176.6,179.6L1175.2,179.0L1173.9,178.4L1172.5,177.8L1171.1,177.2L1169.7,176.7L1168.3,176.1L1166.9,175.6L1165.5,175.0L1164.1,174.4L1162.7,173.9L1161.3,173.4L1159.9,172.8L1158.5,172.3L1157.1,171.8L1155.6,171.2L1154.2,170.7L1152.8,170.2L1151.4,169.7L1150.0,169.2L1148.6,168.7L1147.1,168.2L1145.7,167.7L1144.3,167.2L1142.9,166.7L1141.4,166.3L1140.0,165.8L1138.6,165.3L1137.1,164.9L1135.7,164.4L1134.3,164.0L1132.8,163.6L1131.4,163.1L1129.9,162.7L1128.5,162.3L1127.1,161.9L1125.6,161.4L1124.2,161.0L1122.7,160.6L1121.3,160.2L1119.8,159.8L1118.3,159.5L1116.9,159.1L1115.4,158.7L1114.0,158.3L1112.5,158.0L1111.1,157.6L1109.6,157.2L1108.1,156.9L1106.7,156.5L1105.2,156.2L1103.7,155.8L1102.3,155.5L1100.8,155.2L1099.3,154.9L1097.8,154.5L1096.4,154.2L1094.9,153.9L1093.4,153.6L1091.9,153.3L1090.5,153.0L1089.0,152.7L1087.5,152.4L1086.0,152.1L1084.5,151.8L1083.1,151.5L1081.6,151.3L1080.1,151.0L1078.6,150.7L1077.1,150.5L1075.6,150.2L1074.1,149.9L1072.6,149.7L1071.2,149.4L1069.7,149.2L1068.2,149.0L1066.7,148.7L1065.2,148.5L1063.7,148.2L1062.2,148.0L1060.7,147.8L1059.2,147.6L1057.7,147.4L1056.2,147.1L1054.7,146.9L1053.3,146.7L1051.8,146.5L1050.3,146.3L1048.8,146.1L1047.3,145.9L1045.8,145.7L1044.3,145.5L1042.8,145.3L1041.3,145.1L1039.8,145.0L1038.3,144.8L1036.8,144.6"/>
<path d="M918.7,347.0L917.1,347.0L915.6,347.1L914.0,347.1L912.4,347.1L910.9,347.1L909.3,347.1L907.8,347.1L906.2,347.2L904.7,347.1L903.1,347.1L901.6,347.1L900.1,347.1L898.5,347.1L897.0,347.1L895.5,347.0L893.9,347.0L892.4,347.0L890.9,346.9L889.4,346.9L887.9,346.9L886.4,346.8L884.9,346.8L883.3,346.7L881.8,346.6L880.3,346.6L878.8,346.5L877.3,346.4L875.8,346.4L874.3,346.3L872.8,346.2L871.3,346.1L869.9,346.0L868.4,346.0L866.9,345.9L865.4,345.8L863.9,345.7L862.4,345.6L860.9,345.5L859.5,345.4L858.0,345.3L856.5,345.2L855.0,345.1L853.5,345.0L852.1,344.9L850.6,344.8L849.1,344.6L847.6,344.5L846.2,344.4L844.7,344.3L843.2,344.2L841.7,344.1L840.3,343.9L838.8,343.8L837.3,343.7L835.8,343.6L834.4,343.5L832.9,343.3L831.4,343.2L829.9,343.1L828.5,343.0L827.0,342.8L825.5,342.7L824.1,342.6L822.6,342.4L821.1,342.3L819.6,342.2L818.1,342.1L816.7,341.9L815.2,341.8L813.7,341.7L812.2,341.5L810.7,341.4L809.3,341.3L807.8,341.2L806.3,341.0L804.8,340.9L803.3,340.8L801.8,340.7L800.3,340.6L798.8,340.4L797.3,340.3L795.9,340.2L794.4,340.1L792.9,340.0L791.4,339.9L789.8,339.7L788.3,339.6L786.8,339.5L785.3,339.4L783.8,339.3L782.3,339.2L780.8,339.1L779.3,339.0L777.7,338.9L776.2,338.8L774.7,338.7L773.2,338.6L771.6,338.5L770.1,338.5L768.6,338.4L767.0,338.3L765.5,338.2L764.0,338.1L762.4,338.0L760.9,337.9L759.3,337.8L757.8,337.7L756.3,337.6L754.7,337.5L753.2,337.4L751.6,337.3L750.1,337.2L748.6,337.1L747.0,337.0L745.5,336.9L743.9,336.7L742.4,336.6L740.9,336.5L739.3,336.4L737.8,336.2L736.2,336.1L734.7,335.9L733.2,335.8L731.6,335.6L730.1,335.4L728.6,335.3L727.1,335.1L725.5,334.9L724.0,334.7L722.5,334.5L721.0,334.3L719.5,334.1L718.0,333.9L716.5,333.6L715.0,333.4L713.5,333.1L712.0,332.9L710.5,332.6L709.0,332.3L707.5,332.1L706.0,331.8L704.5,331.5L703.0,331.1L701.6,330.8L700.1,330.5L698.6,330.1L697.2,329.8L695.7,329.4L694.3,329.0L692.8,328.6L691.4,328.2L690.0,327.8L688.5,327.3L687.1,326.9L685.7,326.4L684.3,325.9L682.9,325.4L681.5,324.9L680.1,324.4L678.7,323.9L677.3,323.3L676.0,322.7L674.6,322.1L673.2,321.5L671.9,320.9L670.6,320.3L669.2,319.6L667.9,319.0L666.6,318.3L665.3,317.6L663.9,316.9L662.6,316.1L661.4,315.4L660.1,314.6L658.8,313.8L657.5,313.0L656.3,312.2L655.0,311.3L653.8,310.5L652.6,309.6L651.4,308.7L650.2,307.7L649.0,306.8L647.9,305.8L646.7,304.8L645.6,303.8L644.6,302.8L643.5,301.7L642.5,300.6L641.5,299.5L640.6,298.4L639.6,297.3L638.7,296.1L637.9,294.9L637.1,293.7L636.3,292.5L635.6,291.2L634.9,289.9L634.3,288.6L633.7,287.3L633.2,286.0L632.7,284.6L632.2,283.2L631.9,281.8L631.5,280.3L631.3,278.9L631.1,277.4L630.9,275.8L630.8,274.3L630.8,272.7L630.8,271.2L630.8,269.6L630.9,268.0L631.0,266.5L631.0,265.0L631.1,263.5L631.1,262.0"/>
<path d="M918.7,336.7L917.2,336.4L915.7,336.2L914.2,335.9L912.8,335.7L911.3,335.4L909.8,335.1L908.3,334.9L906.8,334.6L905.3,334.4L903.8,334.1L902.4,333.8L900.9,333.5L899.4,333.3L897.9,333.0L896.4,332.7L894.9,332.5L893.5,332.2L892.0,331.9L890.5,331.6L889.0,331.3L887.5,331.1L886.0,330.8L884.6,330.5L883.1,330.2L881.6,329.9L880.1,329.6L878.6,329.3L877.1,329.0L875.7,328.7L874.2,328.4L872.7,328.1L871.2,327.8L869.7,327.5L868.3,327.2L866.8,326.9L865.3,326.6L863.8,326.3L862.3,326.0L860.9,325.7L859.4,325.4L857.9,325.0L856.4,324.7L854.9,324.4L853.5,324.1L852.0,323.7L850.5,323.4L849.0,323.1L847.6,322.8L846.1,322.4L844.6,322.1L843.1,321.8L841.7,321.4L840.2,321.1L838.7,320.7L837.3,320.4L835.8,320.0L834.3,319.7L832.8,319.3L831.4,319.0L829.9,318.6L828.4,318.3L827.0,317.9L825.5,317.6L824.0,317.2L822.6,316.8L821.1,316.5L819.6,316.1L818.2,315.7L816.7,315.4L815.2,315.0L813.8,314.6L812.3,314.2L810.8,313.8L809.4,313.4L807.9,313.1L806.5,312.7L805.0,312.3L803.6,311.9L802.1,311.5L800.6,311.1L799.2,310.7L797.7,310.3L796.3,309.9L794.8,309.5L793.4,309.1L791.9,308.6L790.5,308.2L789.0,307.8L787.6,307.4L786.1,307.0L784.7,306.5L783.2,306.1L781.8,305.7L780.3,305.2L778.9,304.8L777.4,304.4L776.0,303.9L774.5,303.5L773.1,303.0L771.7,302.6L770.2,302.1L768.8,301.7L767.3,301.2L765.9,300.7L764.5,300.3L763.0,299.8L761.6,299.3L760.2,298.9L758.7,298.4L757.3,297.9L755.9,297.4L754.4,297.0L753.0,296.5L751.6,296.0L750.1,295.5L748.7,295.0L747.3,294.5L745.9,294.0L744.4,293.5L743.0,293.0L741.6,292.5L740.2,292.0L738.8,291.5L737.4,290.9L735.9,290.4L734.5,289.9L733.1,289.4L731.7,288.8L730.3,288.3L728.9,287.7L727.5,287.2L726.1,286.6L724.7,286.1L723.3,285.5L721.9,284.9L720.5,284.3L719.1,283.8L717.7,283.2L716.3,282.6L715.0,282.0L713.6,281.4L712.2,280.7L710.8,280.1L709.5,279.5L708.1,278.8L706.7,278.2L705.4,277.5L704.0,276.9L702.7,276.2L701.3,275.5L700.0,274.8L698.6,274.1L697.3,273.4L696.0,272.7L694.6,272.0L693.3,271.3L692.0,270.5L690.7,269.8L689.4,269.0L688.1,268.2L686.8,267.4L685.5,266.6L684.2,265.8L682.9,265.0L681.7,264.1L680.6,263.0L679.7,261.8"/>
<path d="M918.1,330.2L916.7,329.8L915.2,329.4L913.7,328.9L912.3,328.5L910.8,328.1L909.4,327.7L907.9,327.2L906.5,326.8L905.0,326.4L903.6,325.9L902.1,325.5L900.7,325.0L899.2,324.6L897.8,324.1L896.3,323.7L894.9,323.2L893.4,322.8L892.0,322.3L890.5,321.8L889.1,321.4L887.6,320.9L886.2,320.4L884.8,319.9L883.3,319.4L881.9,318.9L880.4,318.4L879.0,317.9L877.6,317.4L876.1,316.9L874.7,316.4L873.3,315.8L871.8,315.3L870.4,314.8L869.0,314.2L867.6,313.7L866.2,313.1L864.7,312.5L863.3,312.0L861.9,311.4L860.5,310.8L859.1,310.2L857.7,309.6L856.3,309.0L854.9,308.4L853.5,307.8L852.1,307.1L850.7,306.5L849.3,305.9L848.0,305.2L846.6,304.6L845.2,303.9L843.8,303.2L842.5,302.5L841.1,301.9L839.8,301.2L838.4,300.4L837.1,299.7L835.7,299.0L834.4,298.3L833.0,297.5L831.7,296.8L830.4,296.0L829.1,295.2L827.7,294.5L826.4,293.7L825.1,292.9L823.8,292.1L822.5,291.2L821.3,290.4L820.0,289.6L818.7,288.7L817.5,287.8L816.2,287.0L815.0,286.1L813.7,285.2L812.5,284.3L811.3,283.3L810.1,282.4L808.9,281.4L807.7,280.5L806.6,279.5L805.4,278.5L804.3,277.5L803.2,276.5L802.1,275.4L801.0,274.4L799.9,273.3L798.8,272.2L797.8,271.1L796.7,270.0L795.7,268.9L794.7,267.8L793.7,266.6L792.8,265.4L791.8,264.2L790.9,263.0L790.0,261.8"/>
<path d="M936.8,322.8L935.5,321.9L934.2,320.9L932.9,319.9L931.7,318.9L930.5,317.9L929.3,316.9L928.1,315.9L927.0,314.8L925.9,313.7L924.8,312.6L923.7,311.5L922.7,310.3L921.6,309.2L920.6,308.0L919.6,306.8L918.7,305.6L917.7,304.4L916.8,303.2L915.9,302.0L915.0,300.7L914.1,299.5L913.2,298.2L912.4,296.9L911.5,295.6L910.7,294.3L909.9,293.0L909.0,291.7L908.2,290.4L907.5,289.1L906.7,287.7L905.9,286.4L905.1,285.0L904.4,283.7L903.6,282.3L902.9,281.0L902.1,279.6L901.4,278.2L900.7,276.9L899.9,275.5L899.2,274.1L898.5,272.8L897.7,271.4L897.0,270.0L896.3,268.6L895.6,267.3L894.8,265.9L894.1,264.5L893.3,263.2L892.6,261.8"/>
<path d="M993.0,322.8L994.0,321.6L995.0,320.4L995.9,319.2L996.9,318.0L997.9,316.8L998.9,315.6L999.9,314.4L1000.8,313.2L1001.8,312.0L1002.8,310.8L1003.8,309.6L1004.8,308.4L1005.8,307.2L1006.8,306.0L1007.7,304.8L1008.7,303.6L1009.7,302.4L1010.7,301.2L1011.7,300.0L1012.7,298.8L1013.7,297.6L1014.7,296.4L1015.7,295.2L1016.7,294.0L1017.7,292.8L1018.7,291.6L1019.6,290.4L1020.6,289.2L1021.6,288.0L1022.6,286.8L1023.6,285.6L1024.6,284.4L1025.6,283.2L1026.6,282.1L1027.6,280.9L1028.6,279.7L1029.6,278.5L1030.6,277.3L1031.6,276.1L1032.6,274.9L1033.6,273.7L1034.6,272.6L1035.6,271.4L1036.6,270.2L1037.7,269.0L1038.7,267.8L1039.7,266.6L1040.7,265.4L1041.7,264.3L1042.7,263.1L1043.7,261.9"/>
<path d="M1029.0,325.7L1030.4,325.2L1031.9,324.7L1033.3,324.2L1034.7,323.7L1036.1,323.1L1037.6,322.6L1039.0,322.0L1040.4,321.5L1041.8,320.9L1043.2,320.4L1044.6,319.8L1046.0,319.2L1047.4,318.6L1048.8,318.0L1050.2,317.4L1051.6,316.8L1053.0,316.2L1054.4,315.6L1055.8,315.0L1057.1,314.3L1058.5,313.7L1059.9,313.0L1061.3,312.4L1062.6,311.7L1064.0,311.0L1065.4,310.4L1066.7,309.7L1068.1,309.0L1069.4,308.3L1070.8,307.6L1072.1,306.9L1073.5,306.2L1074.8,305.4L1076.1,304.7L1077.5,304.0L1078.8,303.2L1080.1,302.5L1081.4,301.7L1082.8,301.0L1084.1,300.2L1085.4,299.4L1086.7,298.6L1088.0,297.8L1089.3,297.0L1090.6,296.2L1091.9,295.4L1093.1,294.6L1094.4,293.8L1095.7,293.0L1097.0,292.1L1098.2,291.3L1099.5,290.5L1100.8,289.6L1102.0,288.8L1103.3,287.9L1104.5,287.0L1105.8,286.1L1107.0,285.3L1108.2,284.4L1109.5,283.5L1110.7,282.6L1111.9,281.7L1113.1,280.8L1114.3,279.8L1115.5,278.9L1116.7,278.0L1117.9,277.0L1119.1,276.1L1120.3,275.2L1121.5,274.2L1122.7,273.2L1123.9,272.3L1125.0,271.3L1126.2,270.3L1127.3,269.3L1128.5,268.4L1129.6,267.4L1130.8,266.4L1131.9,265.4L1133.1,264.3L1134.2,263.3L1135.3,262.3"/>
<path d="M1030.0,338.2L1031.6,338.2L1033.3,338.2L1034.9,338.2L1036.4,338.1L1038.0,338.1L1039.6,338.0L1041.1,337.9L1042.6,337.7L1044.2,337.6L1045.7,337.4L1047.2,337.2L1048.6,337.0L1050.1,336.8L1051.6,336.6L1053.0,336.3L1054.5,336.1L1055.9,335.8L1057.4,335.5L1058.8,335.2L1060.3,334.9L1061.7,334.6L1063.1,334.3L1064.5,334.0L1066.0,333.7L1067.4,333.4L1068.8,333.1L1070.3,332.8L1071.7,332.4L1073.2,332.1L1074.6,331.8L1076.1,331.5L1077.5,331.2L1079.0,330.9L1080.5,330.6L1082.0,330.3L1083.5,330.0L1085.0,329.7L1086.5,329.4L1088.0,329.2L1089.6,328.9L1091.1,328.6L1092.7,328.4L1094.2,328.1L1095.8,327.9L1097.3,327.6L1098.9,327.3L1100.5,327.1L1102.0,326.8L1103.6,326.6L1105.2,326.3L1106.8,326.0L1108.3,325.8L1109.9,325.5L1111.5,325.2L1113.0,324.9L1114.6,324.6L1116.2,324.3L1117.7,324.0L1119.3,323.6L1120.8,323.3L1122.4,323.0L1123.9,322.6L1125.4,322.2L1126.9,321.8L1128.4,321.4L1129.9,321.0L1131.4,320.6L1132.9,320.1L1134.4,319.6L1135.8,319.2L1137.3,318.6L1138.7,318.1L1140.1,317.6L1141.5,317.0L1142.9,316.4L1144.3,315.8L1145.7,315.2L1147.0,314.5L1148.3,313.8L1149.6,313.1L1150.9,312.4L1152.2,311.6L1153.4,310.8L1154.6,310.0L1155.8,309.1L1157.0,308.2L1158.2,307.3L1159.3,306.4L1160.4,305.4L1161.5,304.4L1162.6,303.3L1163.6,302.3L1164.6,301.2L1165.6,300.0L1166.5,298.8L1167.4,297.6L1168.3,296.4L1169.1,295.1L1169.9,293.8L1170.6,292.5L1171.3,291.2L1171.9,289.8L1172.5,288.4L1173.0,287.0L1173.5,285.6L1173.9,284.2L1174.2,282.7L1174.5,281.3L1174.7,279.8L1174.8,278.3L1174.8,276.8L1174.8,275.3L1174.7,273.8L1174.5,272.3L1174.2,270.7L1173.9,269.2L1173.5,267.7L1173.1,266.2L1172.7,264.7L1172.3,263.2L1171.8,261.8"/>
<path d="M1028.6,354.5L1030.1,355.6L1031.6,356.3L1033.3,356.8L1035.0,357.0L1036.7,357.0L1038.5,356.7L1040.2,356.3L1041.8,355.7L1043.4,354.9L1044.9,354.0L1046.3,353.0L1047.5,351.8L1048.5,350.7L1049.4,349.5L1050.0,348.2L1050.4,347.0L1050.5,345.8L1050.4,344.6L1049.9,343.5L1049.2,342.5L1048.3,341.5L1047.2,340.7L1045.8,339.9L1044.4,339.3L1042.7,338.7L1041.0,338.3L1039.3,337.9L1037.5,337.7L1035.7,337.5L1034.0,337.4L1032.3,337.4L1030.8,337.4L1029.5,337.5"/>
<path d="M91.5,541.2L92.7,540.2L93.9,539.3L95.0,538.3L96.2,537.3L97.4,536.4L98.6,535.4L99.8,534.5L101.0,533.5L102.2,532.6L103.4,531.6L104.6,530.7L105.8,529.8L107.0,528.8L108.2,527.9L109.4,527.0L110.6,526.1L111.8,525.1L113.0,524.2L114.2,523.3L115.4,522.4L116.7,521.5L117.9,520.6L119.1,519.7L120.3,518.8L121.5,517.9L122.8,517.0L124.0,516.2L125.2,515.3L126.5,514.4L127.7,513.5L128.9,512.7L130.2,511.8L131.4,510.9L132.7,510.1L133.9,509.2L135.2,508.4L136.4,507.5L137.7,506.7L138.9,505.9L140.2,505.0L141.4,504.2L142.7,503.3L143.9,502.5L145.2,501.7L146.5,500.9L147.7,500.1L149.0,499.2L150.3,498.4L151.5,497.6L152.8,496.8L154.1,496.0L155.3,495.2L156.6,494.4L157.9,493.6L159.2,492.8L160.5,492.1L161.7,491.3L163.0,490.5L164.3,489.7L165.6,489.0L166.9,488.2L168.2,487.4L169.5,486.7L170.8,485.9L172.1,485.2L173.4,484.4L174.7,483.7L176.0,482.9L177.3,482.2L178.6,481.4L179.9,480.7L181.2,480.0L182.5,479.2L183.8,478.5L185.1,477.8L186.5,477.1L187.8,476.3L189.1,475.6L190.4,474.9L191.7,474.2L193.0,473.5L194.4,472.8L195.7,472.1L197.0,471.4L198.4,470.7L199.7,470.0L201.0,469.3L202.3,468.7L203.7,468.0L205.0,467.3L206.4,466.6L207.7,466.0L209.0,465.3L210.4,464.6L211.7,464.0L213.1,463.3L214.4,462.7L215.8,462.0L217.1,461.4L218.5,460.7L219.8,460.1L221.2,459.4L222.5,458.8L223.9,458.2L225.2,457.5L226.6,456.9L227.9,456.3L229.3,455.6L230.7,455.0L232.0,454.4L233.4,453.8L234.8,453.2L236.1,452.6L237.5,452.0L238.9,451.4L240.2,450.8L241.6,450.2L243.0,449.6L244.4,449.0L245.7,448.4L247.1,447.8L248.5,447.2L249.9,446.6L251.3,446.1L252.6,445.5L254.0,444.9L255.4,444.4L256.8,443.8L258.2,443.2L259.6,442.7L261.0,442.1L262.3,441.5L263.7,441.0L265.1,440.4L266.5,439.9L267.9,439.3L269.3,438.8L270.7,438.3L272.1,437.7L273.5,437.2L274.9,436.7L276.3,436.1L277.7,435.6L279.1,435.1L280.5,434.6L281.9,434.0L283.3,433.5L284.7,433.0L286.2,432.5L287.6,432.0L289.0,431.5L290.4,431.0L291.8,430.5L293.2,430.0L294.6,429.5L296.0,429.0L297.5,428.5L298.9,428.0L300.3,427.5L301.7,427.0L303.1,426.5L304.6,426.1L306.0,425.6L307.4,425.1L308.8,424.6L310.3,424.2L311.7,423.7L313.1,423.2L314.5,422.8L316.0,422.3L317.4,421.8L318.8,421.4L320.3,420.9L321.7,420.5L323.1,420.0L324.6,419.6L326.0,419.1L327.4,418.7L328.9,418.2L330.3,417.8L331.8,417.4L333.2,416.9L334.6,416.5L336.1,416.1L337.5,415.6L339.0,415.2L340.4,414.8L341.8,414.4L343.3,413.9L344.7,413.5L346.2,413.1L347.6,412.7L349.1,412.3L350.5,411.9L352.0,411.5L353.4,411.1L354.9,410.7L356.3,410.3L357.8,409.9L359.2,409.5L360.7,409.1L362.1,408.7L363.6,408.3L365.1,407.9L366.5,407.5L368.0,407.1L369.4,406.7L370.9,406.3L372.3,406.0L373.8,405.6L375.3,405.2L376.7,404.8L378.2,404.5L379.6,404.1L381.1,403.7L382.6,403.4L384.0,403.0L385.5,402.6L387.0,402.3L388.4,401.9L389.9,401.5L391.3,401.2L392.8,400.8L394.3,400.5L395.7,400.1L397.2,399.8L398.7,399.4L400.2,399.1L401.6,398.7L403.1,398.4L404.6,398.1L406.0,397.7L407.5,397.4L409.0,397.0L410.4,396.7L411.9,396.4L413.4,396.1L414.9,395.7L416.3,395.4L417.8,395.1L419.3,394.7L420.8,394.4L422.2,394.1L423.7,393.8L425.2,393.5L426.7,393.1L428.1,392.8L429.6,392.5L431.1,392.2L432.6,391.9L434.0,391.6L435.5,391.3L437.0,391.0L438.5,390.7L440.0,390.4L441.4,390.1L442.9,389.8L444.4,389.5L445.9,389.2L447.4,388.9L448.8,388.6L450.3,388.3L451.8,388.0L453.3,387.7L454.8,387.4L456.2,387.1L457.7,386.8L459.2,386.6L460.7,386.3L462.2,386.0L463.6,385.7L465.1,385.4L466.6,385.2L468.1,384.9L469.6,384.6L471.1,384.3L472.5,384.1L474.0,383.8L475.5,383.5L477.0,383.2L478.5,383.0L480.0,382.7L481.4,382.4L482.9,382.2L484.4,381.9L485.9,381.7L487.4,381.4L488.9,381.1L490.3,380.9L491.8,380.6L493.3,380.4L494.8,380.1L496.3,379.9L497.8,379.6L499.3,379.4L500.7,379.1L502.2,378.9L503.7,378.6L505.2,378.4L506.7,378.1L508.2,377.9L509.7,377.6L511.2,377.4L512.6,377.2L514.1,376.9L515.6,376.7L517.1,376.4L518.6,376.2L520.1,376.0L521.6,375.7L523.1,375.5L524.5,375.3L526.0,375.1L527.5,374.8L529.0,374.6L530.5,374.4L532.0,374.2L533.5,373.9L535.0,373.7L536.5,373.5L538.0,373.3L539.4,373.1L540.9,372.8L542.4,372.6L543.9,372.4L545.4,372.2L546.9,372.0L548.4,371.8L549.9,371.6L551.4,371.4L552.9,371.1L554.3,370.9L555.8,370.7L557.3,370.5L558.8,370.3L560.3,370.1L561.8,369.9L563.3,369.7L564.8,369.5L566.3,369.3L567.8,369.1L569.3,368.9L570.8,368.7L572.3,368.6L573.7,368.4L575.2,368.2L576.7,368.0L578.2,367.8L579.7,367.6L581.2,367.4L582.7,367.2L584.2,367.1L585.7,366.9L587.2,366.7L588.7,366.5L590.2,366.3L591.7,366.1L593.2,366.0L594.7,365.8L596.2,365.6L597.6,365.4L599.1,365.3L600.6,365.1L602.1,364.9L603.6,364.8L605.1,364.6L606.6,364.4L608.1,364.2L609.6,364.1L611.1,363.9L612.6,363.8L614.1,363.6L615.6,363.4L617.1,363.3L618.6,363.1L620.1,362.9L621.6,362.8L623.1,362.6L624.6,362.5L626.1,362.3L627.6,362.2L629.1,362.0L630.6,361.9L632.1,361.7L633.6,361.6L635.1,361.4L636.6,361.3L638.0,361.1L639.5,361.0L641.0,360.8L642.5,360.7L644.0,360.5L645.5,360.4L647.0,360.3L648.5,360.1L650.0,360.0L651.5,359.8L653.0,359.7L654.5,359.6L656.0,359.4L657.5,359.3L659.0,359.2L660.5,359.0L662.0,358.9L663.5,358.8L665.0,358.6L666.5,358.5L668.0,358.4L669.5,358.3L671.0,358.1L672.5,358.0L674.0,357.9L675.5,357.8L677.0,357.6L678.5,357.5L680.0,357.4L681.5,357.3L683.0,357.2L684.5,357.0L686.0,356.9L687.5,356.8L689.0,356.7L690.5,356.6L692.0,356.5L693.5,356.3L695.0,356.2L696.5,356.1L698.0,356.0L699.5,355.9L701.0,355.8L702.5,355.7L704.0,355.6L705.5,355.5L707.0,355.4L708.5,355.3L710.0,355.2L711.5,355.1L713.0,355.0L714.5,354.9L716.0,354.8L717.5,354.7L719.0,354.6L720.5,354.5L722.0,354.4L723.5,354.3L725.0,354.2L726.5,354.1L728.0,354.0L729.6,353.9L731.1,353.8L732.6,353.7L734.1,353.6L735.6,353.5L737.1,353.4L738.6,353.4L740.1,353.3L741.6,353.2L743.1,353.1L744.6,353.0L746.1,352.9L747.6,352.8L749.1,352.8L750.6,352.7L752.1,352.6L753.6,352.5L755.1,352.4L756.6,352.4L758.1,352.3L759.6,352.2L761.1,352.1L762.6,352.1L764.1,352.0L765.6,351.9L767.1,351.8L768.6,351.8L770.1,351.7L771.6,351.6L773.1,351.5L774.6,351.5L776.1,351.4L777.6,351.3L779.1,351.3L780.6,351.2L782.1,351.1L783.7,351.1L785.2,351.0L786.7,350.9L788.2,350.9L789.7,350.8L791.2,350.8L792.7,350.7L794.2,350.6L795.7,350.6L797.2,350.5L798.7,350.5L800.2,350.4L801.7,350.3L803.2,350.3L804.7,350.2L806.2,350.2L807.7,350.1L809.2,350.1L810.7,350.0L812.2,350.0L813.7,349.9L815.2,349.9L816.7,349.8L818.2,349.8L819.7,349.7L821.2,349.7L822.8,349.6L824.3,349.6L825.8,349.5L827.3,349.5L828.8,349.4L830.3,349.4L831.8,349.3L833.3,349.3L834.8,349.2L836.3,349.2L837.8,349.2L839.3,349.1L840.8,349.1L842.3,349.0L843.8,349.0L845.3,349.0L846.8,348.9L848.3,348.9L849.8,348.8L851.3,348.8L852.8,348.8L854.3,348.7L855.8,348.7L857.3,348.7L858.8,348.6L860.4,348.6L861.9,348.6L863.4,348.5L864.9,348.5L866.4,348.5L867.9,348.4L869.4,348.4L870.9,348.4L872.4,348.4L873.9,348.3L875.4,348.3L876.9,348.3L878.4,348.2L879.9,348.2L881.4,348.2L882.9,348.2L884.4,348.1L885.9,348.1L887.4,348.1L888.9,348.1L890.4,348.0L891.9,348.0L893.4,348.0L894.9,348.0L896.4,348.0L898.0,347.9L899.5,347.9L901.0,347.9L902.5,347.9L904.0,347.9L905.5,347.8L907.0,347.8L908.5,347.8L910.0,347.8L911.5,347.8L913.0,347.8L914.5,347.7L916.0,347.7L917.5,347.7L919.0,347.7"/>
<path d="M284.4,541.3L285.1,539.9L285.7,538.4L286.4,537.0L287.2,535.7L287.9,534.3L288.7,533.0L289.4,531.6L290.2,530.3L291.0,529.0L291.9,527.8L292.7,526.5L293.6,525.3L294.4,524.0L295.3,522.8L296.2,521.6L297.1,520.5L298.1,519.3L299.0,518.2L300.0,517.0L301.0,515.9L302.0,514.8L303.0,513.8L304.0,512.7L305.0,511.6L306.1,510.6L307.2,509.6L308.2,508.6L309.3,507.6L310.4,506.6L311.5,505.6L312.7,504.7L313.8,503.7L314.9,502.8L316.1,501.9L317.3,500.9L318.4,500.1L319.6,499.2L320.8,498.3L322.0,497.4L323.2,496.6L324.5,495.8L325.7,494.9L326.9,494.1L328.2,493.3L329.5,492.5L330.7,491.7L332.0,490.9L333.3,490.2L334.6,489.4L335.9,488.7L337.2,487.9L338.5,487.2L339.8,486.5L341.1,485.8L342.4,485.0L343.8,484.3L345.1,483.7L346.5,483.0L347.8,482.3L349.1,481.6L350.5,481.0L351.9,480.3L353.2,479.7L354.6,479.0L356.0,478.4L357.3,477.7L358.7,477.1L360.1,476.5L361.5,475.9L362.8,475.3L364.2,474.7L365.6,474.1L367.0,473.5L368.4,472.9L369.8,472.3L371.2,471.7L372.6,471.1L374.0,470.6L375.4,470.0L376.8,469.4L378.2,468.9L379.6,468.3L381.0,467.8L382.4,467.2L383.8,466.7L385.2,466.2L386.6,465.6L388.0,465.1L389.4,464.6L390.8,464.0L392.3,463.5L393.7,463.0L395.1,462.5L396.5,462.0L397.9,461.5L399.4,461.0L400.8,460.5L402.2,460.0L403.6,459.5L405.1,459.0L406.5,458.5L407.9,458.0L409.4,457.6L410.8,457.1L412.2,456.6L413.7,456.1L415.1,455.7L416.5,455.2L418.0,454.7L419.4,454.3L420.8,453.8L422.3,453.3L423.7,452.9L425.1,452.4L426.6,452.0L428.0,451.5L429.5,451.1L430.9,450.6L432.4,450.2L433.8,449.7L435.2,449.3L436.7,448.8L438.1,448.4L439.6,448.0L441.0,447.5L442.5,447.1L443.9,446.6L445.3,446.2L446.8,445.8L448.2,445.3L449.7,444.9L451.1,444.5L452.6,444.0L454.0,443.6L455.4,443.2L456.9,442.7L458.3,442.3L459.8,441.9L461.2,441.4L462.7,441.0L464.1,440.6L465.5,440.1L467.0,439.7L468.4,439.3L469.9,438.8L471.3,438.4L472.7,438.0L474.2,437.5L475.6,437.1L477.1,436.6L478.5,436.2L479.9,435.8L481.4,435.3L482.8,434.9L484.3,434.5L485.7,434.0L487.1,433.6L488.6,433.2L490.0,432.7L491.4,432.3L492.9,431.9L494.3,431.4L495.7,431.0L497.2,430.6L498.6,430.2L500.1,429.7L501.5,429.3L502.9,428.9L504.4,428.5L505.8,428.0L507.2,427.6L508.7,427.2L510.1,426.8L511.6,426.4L513.0,426.0L514.4,425.6L515.9,425.2L517.3,424.8L518.8,424.4L520.2,424.0L521.7,423.6L523.1,423.2L524.5,422.8L526.0,422.4L527.4,422.0L528.9,421.7L530.3,421.3L531.8,420.9L533.2,420.5L534.7,420.2L536.1,419.8L537.6,419.5L539.1,419.1L540.5,418.8L542.0,418.4L543.4,418.1L544.9,417.7L546.3,417.4L547.8,417.1L549.3,416.7L550.7,416.4L552.2,416.1L553.7,415.8L555.1,415.4L556.6,415.1L558.1,414.8L559.5,414.5L561.0,414.2L562.5,413.9L563.9,413.6L565.4,413.3L566.9,413.0L568.4,412.7L569.8,412.4L571.3,412.1L572.8,411.8L574.2,411.5L575.7,411.3L577.2,411.0L578.7,410.7L580.2,410.4L581.6,410.1L583.1,409.9L584.6,409.6L586.1,409.3L587.5,409.1L589.0,408.8L590.5,408.5L592.0,408.3L593.5,408.0L594.9,407.7L596.4,407.5L597.9,407.2L599.4,407.0L600.9,406.7L602.4,406.4L603.8,406.2L605.3,405.9L606.8,405.7L608.3,405.4L609.8,405.2L611.3,404.9L612.7,404.7L614.2,404.4L615.7,404.2L617.2,403.9L618.7,403.7L620.2,403.4L621.6,403.2L623.1,402.9L624.6,402.7L626.1,402.4L627.6,402.2L629.1,401.9L630.6,401.7L632.0,401.5L633.5,401.2L635.0,401.0L636.5,400.7L638.0,400.5L639.5,400.2L640.9,400.0L642.4,399.7L643.9,399.5L645.4,399.2L646.9,399.0L648.4,398.7L649.8,398.5L651.3,398.2L652.8,398.0L654.3,397.7L655.8,397.5L657.3,397.3L658.8,397.0L660.2,396.8L661.7,396.5L663.2,396.3L664.7,396.0L666.2,395.8L667.7,395.5L669.1,395.3L670.6,395.0L672.1,394.8L673.6,394.5L675.1,394.3L676.6,394.0L678.0,393.8L679.5,393.5L681.0,393.3L682.5,393.0L684.0,392.8L685.5,392.5L686.9,392.2L688.4,392.0L689.9,391.7L691.4,391.5L692.9,391.2L694.4,391.0L695.8,390.7L697.3,390.5L698.8,390.2L700.3,389.9L701.8,389.7L703.2,389.4L704.7,389.2L706.2,388.9L707.7,388.6L709.2,388.4L710.7,388.1L712.1,387.9L713.6,387.6L715.1,387.3L716.6,387.1L718.1,386.8L719.6,386.5L721.0,386.3L722.5,386.0L724.0,385.7L725.5,385.5L727.0,385.2L728.4,385.0L729.9,384.7L731.4,384.4L732.9,384.2L734.4,383.9L735.8,383.6L737.3,383.4L738.8,383.1L740.3,382.8L741.8,382.6L743.3,382.3L744.7,382.0L746.2,381.8L747.7,381.5L749.2,381.2L750.7,381.0L752.1,380.7L753.6,380.4L755.1,380.2L756.6,379.9L758.1,379.6L759.5,379.4L761.0,379.1L762.5,378.8L764.0,378.6L765.5,378.3L767.0,378.1L768.4,377.8L769.9,377.5L771.4,377.3L772.9,377.0L774.4,376.7L775.8,376.5L777.3,376.2L778.8,376.0L780.3,375.7L781.8,375.4L783.3,375.2L784.7,374.9L786.2,374.7L787.7,374.4L789.2,374.2L790.7,373.9L792.2,373.6L793.6,373.4L795.1,373.1L796.6,372.9L798.1,372.6L799.6,372.4L801.0,372.1L802.5,371.9L804.0,371.6L805.5,371.4L807.0,371.1L808.5,370.9L810.0,370.6L811.4,370.4L812.9,370.1L814.4,369.9L815.9,369.6L817.4,369.4L818.9,369.2L820.3,368.9L821.8,368.7L823.3,368.4L824.8,368.2L826.3,368.0L827.8,367.7L829.2,367.5L830.7,367.3L832.2,367.0L833.7,366.8L835.2,366.6L836.7,366.3L838.2,366.1L839.6,365.9L841.1,365.7L842.6,365.4L844.1,365.2L845.6,365.0L847.1,364.8L848.6,364.5L850.1,364.3L851.5,364.1L853.0,363.9L854.5,363.7L856.0,363.5L857.5,363.3L859.0,363.0L860.5,362.8L862.0,362.6L863.5,362.4L864.9,362.2L866.4,362.0L867.9,361.8L869.4,361.6L870.9,361.4L872.4,361.2L873.9,361.0L875.4,360.8L876.9,360.6L878.4,360.4L879.8,360.3L881.3,360.1L882.8,359.9L884.3,359.7L885.8,359.5L887.3,359.3L888.8,359.2L890.3,359.0L891.8,358.8L893.3,358.6L894.8,358.5L896.3,358.3L897.8,358.1L899.3,358.0L900.7,357.8L902.2,357.6L903.7,357.5L905.2,357.3L906.7,357.2L908.2,357.0L909.7,356.9L911.2,356.7L912.7,356.6L914.2,356.4L915.7,356.3L917.2,356.1L918.7,356.0"/>
<path d="M741.2,432.5L742.6,431.8L743.9,431.2L745.3,430.5L746.7,429.9L748.1,429.2L749.5,428.6L750.8,428.0L752.2,427.4L753.6,426.8L755.0,426.1L756.4,425.5L757.8,424.9L759.2,424.4L760.6,423.8L762.0,423.2L763.4,422.6L764.8,422.0L766.2,421.5L767.6,420.9L769.0,420.4L770.4,419.8L771.9,419.3L773.3,418.7L774.7,418.2L776.1,417.7L777.5,417.1L779.0,416.6L780.4,416.1L781.8,415.6L783.2,415.1L784.7,414.5L786.1,414.0L787.5,413.5L789.0,413.0L790.4,412.5L791.8,412.0L793.3,411.6L794.7,411.1L796.1,410.6L797.6,410.1L799.0,409.6L800.5,409.1L801.9,408.7L803.4,408.2L804.8,407.7L806.2,407.3L807.7,406.8L809.1,406.3L810.6,405.9L812.0,405.4L813.5,405.0L814.9,404.5L816.4,404.0L817.8,403.6L819.3,403.1L820.7,402.7L822.2,402.2L823.6,401.8L825.1,401.3L826.5,400.9L828.0,400.4L829.4,400.0L830.9,399.5L832.4,399.1L833.8,398.6L835.3,398.2L836.7,397.7L838.2,397.3L839.6,396.8L841.1,396.4L842.5,395.9L844.0,395.5L845.4,395.0L846.9,394.6L848.3,394.1L849.8,393.7L851.2,393.2L852.7,392.8L854.1,392.3L855.6,391.8L857.0,391.4L858.5,390.9L859.9,390.4L861.3,390.0L862.8,389.5L864.2,389.0L865.7,388.6L867.1,388.1L868.6,387.6L870.0,387.1L871.4,386.6L872.9,386.1L874.3,385.7L875.7,385.2L877.2,384.7L878.6,384.2L880.0,383.7L881.5,383.2L882.9,382.6L884.3,382.1L885.7,381.6L887.2,381.1L888.6,380.6L890.0,380.0L891.4,379.5L892.8,379.0L894.3,378.4L895.7,377.9L897.1,377.3L898.5,376.8L899.9,376.2L901.3,375.6L902.7,375.1L904.1,374.5L905.5,373.9L906.9,373.3L908.3,372.7L909.7,372.1L911.1,371.5L912.5,370.9L913.9,370.3L915.2,369.7L916.6,369.0L918.0,368.4"/>
<path d="M1003.8,439.5L1002.3,438.9L1000.8,438.2L999.3,437.6L997.9,436.8L996.5,436.1L995.1,435.3L993.7,434.5L992.4,433.7L991.0,432.9L989.7,432.0L988.5,431.1L987.2,430.1L986.0,429.2L984.9,428.2L983.7,427.2L982.6,426.1L981.5,425.1L980.4,424.0L979.4,422.9L978.4,421.7L977.5,420.6L976.6,419.4L975.7,418.2L974.8,417.0L974.0,415.7L973.2,414.5L972.5,413.2L971.8,411.9L971.1,410.6L970.5,409.2L969.9,407.8L969.4,406.5L968.9,405.1L968.5,403.7L968.0,402.2L967.7,400.8L967.3,399.3L967.1,397.8L966.8,396.3L966.6,394.8L966.4,393.3L966.3,391.8L966.1,390.2L966.0,388.7L966.0,387.2L965.9,385.6L965.9,384.1L965.9,382.5L965.9,380.9L965.9,379.4L965.9,377.8L965.9,376.3L965.9,374.8L966.0,373.2L966.0,371.7"/>
<path d="M1039.3,432.2L1039.2,430.6L1039.1,429.0L1038.9,427.4L1038.7,425.8L1038.5,424.2L1038.2,422.7L1037.9,421.1L1037.6,419.6L1037.2,418.1L1036.8,416.6L1036.3,415.1L1035.9,413.7L1035.4,412.2L1034.9,410.8L1034.3,409.4L1033.7,407.9L1033.1,406.5L1032.5,405.2L1031.8,403.8L1031.2,402.4L1030.5,401.1L1029.7,399.7L1029.0,398.4L1028.2,397.1L1027.4,395.8L1026.6,394.5L1025.8,393.2L1024.9,391.9L1024.0,390.7L1023.1,389.4L1022.2,388.2L1021.3,386.9L1020.4,385.7L1019.4,384.5L1018.5,383.3L1017.5,382.1L1016.5,380.9L1015.5,379.7L1014.5,378.5L1013.5,377.4L1012.4,376.2L1011.4,375.1L1010.3,374.0L1009.3,372.8L1008.2,371.7"/>
<path d="M1258.0,432.4L1256.7,431.6L1255.4,430.9L1254.1,430.1L1252.7,429.3L1251.4,428.6L1250.1,427.9L1248.8,427.1L1247.4,426.4L1246.1,425.7L1244.8,424.9L1243.4,424.2L1242.1,423.5L1240.8,422.8L1239.4,422.1L1238.1,421.4L1236.7,420.7L1235.4,420.0L1234.0,419.4L1232.7,418.7L1231.3,418.0L1230.0,417.4L1228.6,416.7L1227.2,416.1L1225.9,415.4L1224.5,414.8L1223.1,414.1L1221.8,413.5L1220.4,412.9L1219.0,412.2L1217.7,411.6L1216.3,411.0L1214.9,410.4L1213.5,409.8L1212.1,409.2L1210.8,408.6L1209.4,408.0L1208.0,407.4L1206.6,406.8L1205.2,406.2L1203.8,405.7L1202.4,405.1L1201.0,404.5L1199.6,404.0L1198.2,403.4L1196.8,402.8L1195.4,402.3L1194.0,401.7L1192.6,401.2L1191.2,400.7L1189.8,400.1L1188.4,399.6L1187.0,399.1L1185.5,398.5L1184.1,398.0L1182.7,397.5L1181.3,397.0L1179.9,396.5L1178.4,396.0L1177.0,395.5L1175.6,395.0L1174.2,394.5L1172.7,394.0L1171.3,393.5L1169.9,393.0L1168.5,392.5L1167.0,392.0L1165.6,391.6L1164.2,391.1L1162.7,390.6L1161.3,390.1L1159.9,389.7L1158.4,389.2L1157.0,388.8L1155.5,388.3L1154.1,387.9L1152.7,387.4L1151.2,387.0L1149.8,386.5L1148.3,386.1L1146.9,385.6L1145.4,385.2L1144.0,384.8L1142.5,384.3L1141.1,383.9L1139.6,383.5L1138.2,383.0L1136.7,382.6L1135.3,382.2L1133.8,381.8L1132.4,381.4L1130.9,380.9L1129.4,380.5L1128.0,380.1L1126.5,379.7L1125.1,379.3L1123.6,378.9L1122.1,378.5L1120.7,378.1L1119.2,377.7L1117.8,377.3L1116.3,376.9L1114.8,376.5L1113.4,376.1L1111.9,375.7L1110.4,375.4L1109.0,375.0L1107.5,374.6L1106.1,374.2L1104.6,373.8L1103.1,373.4L1101.7,373.1L1100.2,372.7L1098.7,372.3L1097.3,371.9L1095.8,371.6L1094.3,371.2L1092.8,370.8L1091.4,370.4L1089.9,370.1L1088.4,369.7L1087.0,369.3L1085.5,369.0L1084.0,368.6L1082.6,368.2L1081.1,367.9L1079.6,367.5L1078.2,367.2L1076.7,366.8L1075.2,366.4L1073.7,366.1L1072.3,365.7L1070.8,365.4L1069.3,365.0L1067.9,364.6L1066.4,364.3L1064.9,363.9L1063.4,363.6L1062.0,363.3L1060.5,362.9L1059.0,362.6L1057.6,362.2L1056.1,361.9L1054.6,361.5L1053.1,361.2L1051.7,360.9L1050.2,360.5L1048.7,360.2L1047.2,359.9L1045.8,359.6L1044.3,359.3L1042.8,358.9L1041.3,358.6L1039.9,358.3L1038.4,358.0L1036.9,357.7L1035.4,357.4L1033.9,357.1L1032.5,356.8L1031.0,356.5L1029.5,356.2"/>
<path d="M1364.4,432.4L1363.0,431.7L1361.7,431.1L1360.3,430.4L1358.9,429.7L1357.5,429.1L1356.1,428.4L1354.8,427.8L1353.4,427.2L1352.0,426.5L1350.6,425.9L1349.2,425.3L1347.8,424.7L1346.5,424.0L1345.1,423.4L1343.7,422.8L1342.3,422.2L1340.9,421.6L1339.5,421.0L1338.1,420.4L1336.7,419.8L1335.3,419.2L1333.9,418.7L1332.5,418.1L1331.1,417.5L1329.7,416.9L1328.3,416.4L1326.9,415.8L1325.5,415.3L1324.1,414.7L1322.7,414.2L1321.3,413.6L1319.9,413.1L1318.5,412.5L1317.0,412.0L1315.6,411.5L1314.2,410.9L1312.8,410.4L1311.4,409.9L1310.0,409.4L1308.6,408.9L1307.1,408.4L1305.7,407.9L1304.3,407.4L1302.9,406.9L1301.4,406.4L1300.0,405.9L1298.6,405.4L1297.2,404.9L1295.7,404.4L1294.3,403.9L1292.9,403.5L1291.4,403.0L1290.0,402.5L1288.6,402.1L1287.1,401.6L1285.7,401.1L1284.3,400.7L1282.8,400.2L1281.4,399.8L1280.0,399.4L1278.5,398.9L1277.1,398.5L1275.6,398.0L1274.2,397.6L1272.8,397.2L1271.3,396.8L1269.9,396.3L1268.4,395.9L1267.0,395.5L1265.5,395.1L1264.1,394.7L1262.6,394.3L1261.2,393.9L1259.7,393.5L1258.3,393.1L1256.8,392.7L1255.4,392.3L1253.9,391.9L1252.5,391.5L1251.0,391.1L1249.6,390.7L1248.1,390.4L1246.6,390.0L1245.2,389.6L1243.7,389.2L1242.3,388.9L1240.8,388.5L1239.4,388.1L1237.9,387.8L1236.4,387.4L1235.0,387.1L1233.5,386.7L1232.0,386.4L1230.6,386.0L1229.1,385.7L1227.6,385.3L1226.2,385.0L1224.7,384.7L1223.2,384.3L1221.8,384.0L1220.3,383.7L1218.8,383.3L1217.4,383.0L1215.9,382.7L1214.4,382.4L1212.9,382.1L1211.5,381.7L1210.0,381.4L1208.5,381.1L1207.0,380.8L1205.6,380.5L1204.1,380.2L1202.6,379.9L1201.1,379.6L1199.7,379.3L1198.2,379.0L1196.7,378.7L1195.2,378.4L1193.7,378.1L1192.3,377.8L1190.8,377.5L1189.3,377.3L1187.8,377.0L1186.3,376.7L1184.8,376.4L1183.4,376.1L1181.9,375.9L1180.4,375.6L1178.9,375.3L1177.4,375.0L1175.9,374.8L1174.5,374.5L1173.0,374.2L1171.5,374.0L1170.0,373.7L1168.5,373.5L1167.0,373.2L1165.5,372.9L1164.0,372.7L1162.6,372.4L1161.1,372.2L1159.6,371.9L1158.1,371.7L1156.6,371.4L1155.1,371.2L1153.6,370.9L1152.1,370.7L1150.6,370.5L1149.1,370.2L1147.7,370.0L1146.2,369.7L1144.7,369.5L1143.2,369.3L1141.7,369.0L1140.2,368.8L1138.7,368.6L1137.2,368.3L1135.7,368.1L1134.2,367.9L1132.7,367.7L1131.2,367.4L1129.7,367.2L1128.2,367.0L1126.7,366.8L1125.2,366.5L1123.7,366.3L1122.3,366.1L1120.8,365.9L1119.3,365.7L1117.8,365.4L1116.3,365.2L1114.8,365.0L1113.3,364.8L1111.8,364.6L1110.3,364.4L1108.8,364.2L1107.3,364.0L1105.8,363.7L1104.3,363.5L1102.8,363.3L1101.3,363.1L1099.8,362.9L1098.3,362.7L1096.8,362.5L1095.3,362.3L1093.8,362.1L1092.3,361.9L1090.8,361.7L1089.3,361.5L1087.8,361.3L1086.3,361.1L1084.8,360.9L1083.3,360.7L1081.8,360.5L1080.3,360.3L1078.8,360.1L1077.3,359.9L1075.8,359.7L1074.3,359.5L1072.9,359.3L1071.4,359.1L1069.9,358.9L1068.4,358.7L1066.9,358.5L1065.4,358.3L1063.9,358.1L1062.4,357.9L1060.9,357.7L1059.4,357.5L1057.9,357.3L1056.4,357.1L1054.9,356.9L1053.4,356.7L1051.9,356.5L1050.4,356.3L1048.9,356.1L1047.4,356.0L1045.9,355.8L1044.4,355.6L1042.9,355.4L1041.4,355.2L1040.0,355.0L1038.5,354.8L1037.0,354.6L1035.5,354.4L1034.0,354.2L1032.5,354.0L1031.0,353.8L1029.5,353.6"/>
<path d="M1402.2,432.4L1401.5,430.9L1400.8,429.5L1400.0,428.0L1399.3,426.6L1398.5,425.2L1397.7,423.9L1396.8,422.5L1396.0,421.2L1395.1,420.0L1394.3,418.7L1393.3,417.5L1392.4,416.3L1391.5,415.1L1390.5,413.9L1389.6,412.8L1388.6,411.7L1387.5,410.6L1386.5,409.5L1385.5,408.5L1384.4,407.5L1383.3,406.5L1382.3,405.5L1381.2,404.5L1380.0,403.6L1378.9,402.7L1377.8,401.8L1376.6,400.9L1375.4,400.0L1374.2,399.2L1373.0,398.3L1371.8,397.5L1370.6,396.7L1369.4,396.0L1368.1,395.2L1366.9,394.5L1365.6,393.7L1364.3,393.0L1363.0,392.3L1361.7,391.7L1360.4,391.0L1359.1,390.3L1357.8,389.7L1356.5,389.1L1355.1,388.5L1353.8,387.9L1352.4,387.3L1351.1,386.8L1349.7,386.2L1348.3,385.7L1346.9,385.1L1345.6,384.6L1344.2,384.1L1342.8,383.6L1341.4,383.1L1340.0,382.7L1338.6,382.2L1337.1,381.7L1335.7,381.3L1334.3,380.9L1332.9,380.4L1331.4,380.0L1330.0,379.6L1328.6,379.2L1327.1,378.8L1325.7,378.5L1324.2,378.1L1322.7,377.7L1321.3,377.4L1319.8,377.0L1318.3,376.7L1316.9,376.4L1315.4,376.1L1313.9,375.7L1312.4,375.4L1311.0,375.1L1309.5,374.9L1308.0,374.6L1306.5,374.3L1305.0,374.0L1303.5,373.8L1302.0,373.5L1300.5,373.3L1299.0,373.0L1297.5,372.8L1296.0,372.5L1294.4,372.3L1292.9,372.1L1291.4,371.9L1289.9,371.6L1288.4,371.4L1286.9,371.2L1285.3,371.0L1283.8,370.8L1282.3,370.6L1280.8,370.4L1279.2,370.3L1277.7,370.1L1276.2,369.9L1274.7,369.7L1273.1,369.5L1271.6,369.4L1270.1,369.2L1268.5,369.0L1267.0,368.9L1265.5,368.7L1263.9,368.6L1262.4,368.4L1260.9,368.2L1259.3,368.1L1257.8,367.9L1256.3,367.8L1254.8,367.6L1253.2,367.5L1251.7,367.3L1250.2,367.2L1248.7,367.0L1247.1,366.9L1245.6,366.7L1244.1,366.6L1242.6,366.4L1241.0,366.3L1239.5,366.1L1238.0,366.0L1236.5,365.8L1235.0,365.7L1233.5,365.5L1231.9,365.3L1230.4,365.2L1228.9,365.1L1227.4,364.9L1225.9,364.8L1224.4,364.6L1222.9,364.5L1221.3,364.3L1219.8,364.2L1218.3,364.0L1216.8,363.9L1215.3,363.7L1213.8,363.6L1212.3,363.4L1210.8,363.3L1209.3,363.1L1207.8,363.0L1206.3,362.8L1204.8,362.7L1203.3,362.6L1201.8,362.4L1200.3,362.3L1198.8,362.1L1197.3,362.0L1195.8,361.8L1194.3,361.7L1192.8,361.6L1191.3,361.4L1189.8,361.3L1188.3,361.1L1186.8,361.0L1185.3,360.9L1183.8,360.7L1182.3,360.6L1180.8,360.4L1179.3,360.3L1177.8,360.2L1176.3,360.0L1174.8,359.9L1173.3,359.8L1171.8,359.6L1170.3,359.5L1168.8,359.4L1167.4,359.2L1165.9,359.1L1164.4,359.0L1162.9,358.8L1161.4,358.7L1159.9,358.6L1158.4,358.4L1156.9,358.3L1155.4,358.2L1153.9,358.0L1152.4,357.9L1150.9,357.8L1149.5,357.7L1148.0,357.5L1146.5,357.4L1145.0,357.3L1143.5,357.2L1142.0,357.1L1140.5,356.9L1139.0,356.8L1137.5,356.7L1136.0,356.6L1134.6,356.5L1133.1,356.3L1131.6,356.2L1130.1,356.1L1128.6,356.0L1127.1,355.9L1125.6,355.8L1124.1,355.6L1122.6,355.5L1121.1,355.4L1119.7,355.3L1118.2,355.2L1116.7,355.1L1115.2,355.0L1113.7,354.9L1112.2,354.8L1110.7,354.7L1109.2,354.6L1107.7,354.5L1106.2,354.4L1104.7,354.3L1103.2,354.2L1101.8,354.1L1100.3,354.0L1098.8,353.9L1097.3,353.8L1095.8,353.7L1094.3,353.6L1092.8,353.5L1091.3,353.4L1089.8,353.3L1088.3,353.2L1086.8,353.1L1085.3,353.0L1083.8,352.9L1082.3,352.8L1080.8,352.8L1079.3,352.7L1077.8,352.6L1076.3,352.5L1074.8,352.4L1073.3,352.3L1071.8,352.3L1070.3,352.2L1068.8,352.1L1067.3,352.0L1065.8,352.0L1064.3,351.9L1062.8,351.8L1061.3,351.7L1059.8,351.7L1058.3,351.6L1056.8,351.5L1055.3,351.5L1053.7,351.4L1052.2,351.3L1050.7,351.3L1049.2,351.2L1047.7,351.1L1046.2,351.1L1044.7,351.0L1043.2,351.0L1041.6,350.9L1040.1,350.9L1038.6,350.8L1037.1,350.7L1035.6,350.7L1034.1,350.6L1032.5,350.6L1031.0,350.5L1029.5,350.5"/>
<path d="M1164.6,541.1L1163.9,539.8L1163.2,538.5L1162.5,537.1L1161.8,535.8L1161.0,534.5L1160.3,533.2L1159.6,531.9L1158.9,530.5L1158.1,529.2L1157.4,527.9L1156.7,526.6L1155.9,525.3L1155.2,524.0L1154.4,522.6L1153.7,521.3L1152.9,520.0L1152.2,518.7L1151.4,517.4L1150.6,516.1L1149.9,514.8L1149.1,513.5L1148.3,512.2L1147.5,510.9L1146.7,509.6L1146.0,508.3L1145.2,507.0L1144.4,505.7L1143.6,504.4L1142.8,503.1L1142.0,501.8L1141.2,500.5L1140.4,499.2L1139.5,497.9L1138.7,496.7L1137.9,495.4L1137.1,494.1L1136.2,492.8L1135.4,491.5L1134.6,490.3L1133.7,489.0L1132.9,487.7L1132.0,486.5L1131.2,485.2L1130.3,483.9L1129.5,482.7L1128.6,481.4L1127.7,480.1L1126.9,478.9L1126.0,477.6L1125.1,476.4L1124.2,475.2L1123.4,473.9L1122.5,472.7L1121.6,471.4L1120.7,470.2L1119.8,469.0L1118.9,467.7L1118.0,466.5L1117.1,465.3L1116.1,464.1L1115.2,462.9L1114.3,461.6L1113.4,460.4L1112.4,459.2L1111.5,458.0L1110.6,456.8L1109.6,455.6L1108.7,454.4L1107.7,453.2L1106.8,452.1L1105.8,450.9L1104.8,449.7L1103.9,448.5L1102.9,447.3L1101.9,446.2L1100.9,445.0L1100.0,443.8L1099.0,442.7L1098.0,441.5L1097.0,440.4L1096.0,439.2L1095.0,438.1L1094.0,437.0L1093.0,435.8L1091.9,434.7L1090.9,433.6L1089.9,432.5L1088.9,431.3L1087.8,430.2L1086.8,429.1L1085.7,428.0L1084.7,426.9L1083.6,425.8L1082.6,424.7L1081.5,423.6L1080.5,422.6L1079.4,421.5L1078.3,420.4L1077.2,419.3L1076.2,418.3L1075.1,417.2L1074.0,416.2L1072.9,415.1L1071.8,414.1L1070.7,413.1L1069.6,412.0L1068.5,411.0L1067.3,410.0L1066.2,409.0L1065.1,407.9L1064.0,406.9L1062.8,405.9L1061.7,404.9L1060.5,404.0L1059.4,403.0L1058.2,402.0L1057.1,401.0L1055.9,400.0L1054.7,399.1L1053.6,398.1L1052.4,397.2L1051.2,396.2L1050.0,395.3L1048.8,394.4L1047.6,393.4L1046.4,392.5L1045.2,391.6L1044.0,390.7L1042.8,389.8L1041.6,388.9L1040.4,388.0L1039.1,387.1L1037.9,386.2L1036.7,385.4L1035.4,384.5L1034.2,383.6L1032.9,382.8L1031.7,381.9L1030.4,381.1L1029.1,380.3L1027.9,379.4L1026.6,378.6L1025.3,377.8L1024.0,377.0L1022.7,376.2L1021.4,375.4L1020.1,374.6L1018.8,373.8L1017.5,373.1L1016.2,372.3"/>
<path d="M1177.5,541.1L1177.4,539.6L1177.4,538.2L1177.3,536.7L1177.2,535.2L1177.1,533.8L1177.0,532.3L1177.0,530.8L1176.9,529.3L1176.8,527.8L1176.7,526.3L1176.6,524.9L1176.5,523.4L1176.4,521.9L1176.3,520.4L1176.1,518.9L1176.0,517.3L1175.9,515.8L1175.8,514.3L1175.6,512.8L1175.5,511.3L1175.3,509.8L1175.2,508.3L1175.0,506.8L1174.9,505.2L1174.7,503.7L1174.5,502.2L1174.4,500.7L1174.2,499.2L1174.0,497.6L1173.8,496.1L1173.6,494.6L1173.4,493.1L1173.2,491.6L1173.0,490.0L1172.7,488.5L1172.5,487.0L1172.3,485.5L1172.0,484.0L1171.8,482.4L1171.5,480.9L1171.2,479.4L1170.9,477.9L1170.7,476.4L1170.4,474.9L1170.1,473.4L1169.7,471.9L1169.4,470.4L1169.1,468.9L1168.8,467.4L1168.4,465.9L1168.1,464.4L1167.7,462.9L1167.3,461.4L1166.9,459.9L1166.5,458.4L1166.1,456.9L1165.7,455.5L1165.3,454.0L1164.9,452.5L1164.4,451.1L1164.0,449.6L1163.5,448.1L1163.0,446.7L1162.5,445.2L1162.0,443.8L1161.5,442.4L1161.0,440.9L1160.5,439.5L1159.9,438.1L1159.4,436.7L1158.8,435.3L1158.3,433.9L1157.7,432.5L1157.1,431.1L1156.4,429.7L1155.8,428.3L1155.2,426.9L1154.5,425.5L1153.9,424.2L1153.2,422.8L1152.5,421.5L1151.8,420.2L1151.1,418.8L1150.3,417.5L1149.6,416.2L1148.8,414.9L1148.1,413.6L1147.3,412.3L1146.5,411.1L1145.7,409.8L1144.8,408.6L1144.0,407.3L1143.1,406.1L1142.2,404.9L1141.3,403.7L1140.4,402.5L1139.5,401.4L1138.6,400.2L1137.6,399.1L1136.6,398.0L1135.6,396.9L1134.6,395.8L1133.6,394.7L1132.6,393.7L1131.5,392.6L1130.4,391.6L1129.3,390.6L1128.2,389.7L1127.1,388.7L1125.9,387.7L1124.8,386.8L1123.6,385.9L1122.4,385.0L1121.2,384.1L1120.0,383.3L1118.8,382.4L1117.5,381.6L1116.2,380.8L1115.0,380.0L1113.7,379.2L1112.4,378.4L1111.1,377.7L1109.8,376.9L1108.4,376.2L1107.1,375.5L1105.8,374.8L1104.4,374.1L1103.0,373.4L1101.7,372.8L1100.3,372.1L1098.9,371.5L1097.5,370.9L1096.1,370.3L1094.7,369.7L1093.3,369.1L1091.9,368.5L1090.5,368.0L1089.0,367.4L1087.6,366.9L1086.2,366.4L1084.7,365.9L1083.3,365.4L1081.8,364.9L1080.3,364.4L1078.9,363.9L1077.4,363.5L1076.0,363.0L1074.5,362.6L1073.0,362.2L1071.5,361.8L1070.0,361.4L1068.5,361.0L1067.1,360.6L1065.6,360.3L1064.1,359.9L1062.6,359.6L1061.1,359.3L1059.6,359.0L1058.1,358.7L1056.6,358.4L1055.1,358.1L1053.6,357.8L1052.1,357.5L1050.5,357.3L1049.0,357.1L1047.5,356.8L1046.0,356.6L1044.5,356.4L1043.0,356.2L1041.5,356.0L1040.0,355.8L1038.5,355.7L1037.0,355.5L1035.5,355.4L1034.0,355.2L1032.5,355.1L1031.0,355.0L1029.5,354.9"/>
<path d="M1137.7,541.0L1136.4,540.2L1135.1,539.3L1133.8,538.5L1132.5,537.7L1131.1,536.9L1129.8,536.1L1128.5,535.3L1127.2,534.5L1125.9,533.7L1124.6,532.9L1123.2,532.1L1121.9,531.3L1120.6,530.6L1119.3,529.8L1118.0,529.0L1116.6,528.3L1115.3,527.5L1114.0,526.8L1112.6,526.1L1111.3,525.3L1110.0,524.6L1108.6,523.9L1107.3,523.2L1106.0,522.5L1104.6,521.8L1103.3,521.1L1101.9,520.4L1100.6,519.8L1099.3,519.1L1097.9,518.4L1096.6,517.8L1095.2,517.2L1093.8,516.5L1092.5,515.9L1091.1,515.3L1089.8,514.7L1088.4,514.1L1087.0,513.5L1085.6,513.0L1084.3,512.4L1082.9,511.9L1081.5,511.3L1080.1,510.8L1078.7,510.3L1077.4,509.8L1076.0,509.3L1074.6,508.8L1073.2,508.3L1071.8,507.9L1070.4,507.4L1068.9,507.0L1067.5,506.6L1066.1,506.2L1064.7,505.8L1063.3,505.4L1061.8,505.0L1060.4,504.6L1059.0,504.3L1057.5,503.9L1056.1,503.6L1054.6,503.3L1053.2,503.0L1051.7,502.7L1050.3,502.5L1048.8,502.2L1047.3,502.0L1045.9,501.8L1044.4,501.6L1042.9,501.4L1041.4,501.2L1039.9,501.0L1038.4,500.9L1036.9,500.8L1035.4,500.6L1033.9,500.5L1032.4,500.5L1030.9,500.4L1029.3,500.3L1027.8,500.3L1026.3,500.3L1024.7,500.3L1023.2,500.3L1021.6,500.4L1020.1,500.4L1018.5,500.5L1016.9,500.5L1015.4,500.6L1013.8,500.7L1012.2,500.8L1010.6,500.9L1009.1,501.0L1007.5,501.2L1005.9,501.3L1004.3,501.4L1002.8,501.5L1001.2,501.7L999.6,501.8L998.0,501.9L996.5,502.0L994.9,502.1L993.4,502.2L991.8,502.3L990.2,502.4L988.7,502.5L987.2,502.5L985.6,502.6L984.1,502.6L982.6,502.6L981.1,502.6L979.5,502.6L978.0,502.6L976.6,502.5L975.1,502.4L973.6,502.3L972.1,502.2L970.7,502.0L969.2,501.9L967.8,501.6L966.4,501.4L965.0,501.1L963.6,500.8L962.2,500.5L960.8,500.1L959.5,499.7L958.2,499.2L956.8,498.8L955.5,498.2L954.2,497.7L953.0,497.1L951.7,496.4L950.5,495.7L949.3,495.0L948.0,494.2L946.9,493.3L945.7,492.5L944.6,491.5L943.4,490.6L942.3,489.6L941.3,488.5L940.2,487.5L939.2,486.4L938.2,485.2L937.2,484.1L936.2,482.9L935.3,481.6L934.4,480.4L933.5,479.1L932.7,477.8L931.9,476.4L931.1,475.1L930.3,473.7L929.6,472.3L928.9,470.9L928.3,469.4L927.6,468.0L927.0,466.5L926.5,465.0L926.0,463.5L925.5,462.0L925.0,460.5L924.6,459.0L924.2,457.5L923.9,455.9L923.6,454.4L923.3,452.9L923.1,451.3L922.9,449.8L922.8,448.3L922.7,446.7L922.7,445.2L922.6,443.7L922.7,442.1L922.8,440.6L922.9,439.1L923.0,437.6L923.2,436.1L923.5,434.7L923.7,433.2L924.0,431.7L924.4,430.2L924.8,428.8L925.2,427.3L925.6,425.9L926.1,424.4L926.6,423.0L927.1,421.6L927.6,420.2L928.2,418.8L928.8,417.4L929.4,416.0L930.0,414.6L930.7,413.2L931.4,411.8L932.1,410.5L932.8,409.1L933.5,407.8L934.2,406.4L935.0,405.1L935.8,403.8L936.5,402.5L937.3,401.1L938.1,399.9L938.9,398.6L939.7,397.3L940.5,396.0L941.4,394.7L942.2,393.5L943.0,392.2L943.8,390.9L944.7,389.7L945.5,388.4L946.3,387.1L947.1,385.9L947.9,384.6L948.8,383.4L949.6,382.1L950.4,380.8L951.1,379.5L951.9,378.2L952.7,377.0L953.4,375.7L954.2,374.3L954.9,373.0L955.6,371.7"/>
<path d="M102.8,541.2L104.2,540.6L105.6,539.9L106.9,539.3L108.3,538.6L109.7,538.0L111.1,537.4L112.5,536.7L113.9,536.1L115.2,535.5L116.6,534.9L118.0,534.3L119.4,533.7L120.8,533.1L122.2,532.5L123.6,531.9L125.0,531.3L126.4,530.7L127.8,530.1L129.2,529.5L130.6,529.0L132.0,528.4L133.4,527.8L134.8,527.3L136.2,526.7L137.6,526.1L139.0,525.6L140.4,525.0L141.8,524.5L143.2,523.9L144.6,523.4L146.0,522.9L147.4,522.3L148.8,521.8L150.2,521.3L151.6,520.7L153.1,520.2L154.5,519.7L155.9,519.2L157.3,518.7L158.7,518.2L160.1,517.7L161.6,517.2L163.0,516.7L164.4,516.2L165.8,515.7L167.3,515.2L168.7,514.7L170.1,514.2L171.5,513.8L173.0,513.3L174.4,512.8L175.8,512.3L177.2,511.9L178.7,511.4L180.1,511.0L181.5,510.5L183.0,510.1L184.4,509.6L185.8,509.2L187.3,508.7L188.7,508.3L190.1,507.8L191.6,507.4L193.0,507.0L194.5,506.5L195.9,506.1L197.3,505.7L198.8,505.3L200.2,504.9L201.7,504.5L203.1,504.0L204.5,503.6L206.0,503.2L207.4,502.8L208.9,502.4L210.3,502.0L211.8,501.7L213.2,501.3L214.7,500.9L216.1,500.5L217.6,500.1L219.0,499.7L220.5,499.4L221.9,499.0L223.4,498.6L224.8,498.3L226.3,497.9L227.8,497.5L229.2,497.2L230.7,496.8L232.1,496.5L233.6,496.1L235.1,495.8L236.5,495.4L238.0,495.1L239.4,494.7L240.9,494.4L242.4,494.1L243.8,493.7L245.3,493.4L246.8,493.1L248.2,492.7L249.7,492.4L251.2,492.1L252.6,491.8L254.1,491.5L255.6,491.2L257.0,490.8L258.5,490.5L260.0,490.2L261.4,489.9L262.9,489.6L264.4,489.3L265.9,489.0L267.3,488.7L268.8,488.5L270.3,488.2L271.8,487.9L273.2,487.6L274.7,487.3L276.2,487.0L277.7,486.8L279.1,486.5L280.6,486.2L282.1,485.9L283.6,485.7L285.1,485.4L286.5,485.1L288.0,484.9L289.5,484.6L291.0,484.4L292.5,484.1L293.9,483.8L295.4,483.6L296.9,483.3L298.4,483.1L299.9,482.9L301.4,482.6L302.9,482.4L304.3,482.1L305.8,481.9L307.3,481.7L308.8,481.4L310.3,481.2L311.8,481.0L313.3,480.7L314.8,480.5L316.2,480.3L317.7,480.1L319.2,479.8L320.7,479.6L322.2,479.4L323.7,479.2L325.2,479.0L326.7,478.8L328.2,478.6L329.7,478.4L331.2,478.1L332.7,477.9L334.1,477.7L335.6,477.5L337.1,477.3L338.6,477.1L340.1,477.0L341.6,476.8L343.1,476.6L344.6,476.4L346.1,476.2L347.6,476.0L349.1,475.8L350.6,475.6L352.1,475.4L353.6,475.3L355.1,475.1L356.6,474.9L358.1,474.7L359.6,474.6L361.1,474.4L362.6,474.2L364.1,474.0L365.6,473.9L367.1,473.7L368.6,473.5L370.1,473.4L371.6,473.2L373.1,473.1L374.6,472.9L376.1,472.7L377.6,472.6L379.1,472.4L380.6,472.3L382.1,472.1L383.6,472.0L385.1,471.8L386.6,471.7L388.1,471.5L389.6,471.4L391.1,471.2L392.6,471.1L394.1,470.9L395.6,470.8L397.2,470.6L398.7,470.5L400.2,470.4L401.7,470.2L403.2,470.1L404.7,470.0L406.2,469.8L407.7,469.7L409.2,469.6L410.7,469.4L412.2,469.3L413.7,469.2L415.2,469.0L416.7,468.9L418.2,468.8L419.7,468.7L421.2,468.5L422.8,468.4L424.3,468.3L425.8,468.2L427.3,468.0L428.8,467.9L430.3,467.8L431.8,467.7L433.3,467.6L434.8,467.4L436.3,467.3L437.8,467.2L439.3,467.1L440.8,467.0L442.3,466.9L443.8,466.8L445.4,466.6L446.9,466.5L448.4,466.4L449.9,466.3L451.4,466.2L452.9,466.1L454.4,466.0L455.9,465.9L457.4,465.8L458.9,465.7L460.4,465.6L461.9,465.5L463.4,465.4L464.9,465.3L466.5,465.2L468.0,465.1L469.5,465.0L471.0,464.9L472.5,464.8L474.0,464.7L475.5,464.6L477.0,464.5L478.5,464.4L480.0,464.3L481.5,464.2L483.0,464.1L484.5,464.0L486.0,463.9L487.6,463.8L489.1,463.7L490.6,463.6L492.1,463.5L493.6,463.4L495.1,463.4L496.6,463.3L498.1,463.2L499.6,463.1L501.1,463.0L502.6,462.9L504.1,462.8L505.6,462.7L507.1,462.7L508.6,462.6L510.1,462.5L511.7,462.4L513.2,462.3L514.7,462.2L516.2,462.1L517.7,462.1L519.2,462.0L520.7,461.9L522.2,461.8L523.7,461.7L525.2,461.7L526.7,461.6L528.2,461.5L529.7,461.4L531.2,461.3L532.7,461.3L534.2,461.2L535.7,461.1L537.3,461.0L538.8,461.0L540.3,460.9L541.8,460.8L543.3,460.7L544.8,460.7L546.3,460.6L547.8,460.5L549.3,460.4L550.8,460.4L552.3,460.3L553.8,460.2L555.3,460.1L556.8,460.1L558.3,460.0L559.8,459.9L561.3,459.9L562.8,459.8L564.3,459.7L565.8,459.7L567.3,459.6L568.8,459.5L570.3,459.4L571.9,459.4L573.4,459.3L574.9,459.2L576.4,459.2L577.9,459.1L579.4,459.0L580.9,459.0L582.4,458.9L583.9,458.8L585.4,458.8L586.9,458.7L588.4,458.6L589.9,458.6L591.4,458.5L592.9,458.4L594.4,458.4L595.9,458.3L597.4,458.2L598.9,458.2L600.4,458.1L601.9,458.0L603.4,458.0L604.9,457.9L606.4,457.8L607.9,457.8L609.4,457.7L610.9,457.7L612.4,457.6"/>
<path d="M292.6,541.4L293.6,540.1L294.5,538.9L295.5,537.7L296.5,536.4L297.5,535.2L298.5,534.1L299.5,532.9L300.6,531.8L301.6,530.7L302.7,529.6L303.8,528.5L304.8,527.4L305.9,526.4L307.0,525.3L308.1,524.3L309.3,523.3L310.4,522.3L311.5,521.3L312.7,520.4L313.8,519.5L315.0,518.5L316.2,517.6L317.4,516.7L318.6,515.9L319.8,515.0L321.0,514.2L322.2,513.3L323.4,512.5L324.7,511.7L325.9,510.9L327.2,510.2L328.4,509.4L329.7,508.7L331.0,507.9L332.3,507.2L333.6,506.5L334.9,505.8L336.2,505.1L337.5,504.5L338.8,503.8L340.1,503.2L341.5,502.5L342.8,501.9L344.1,501.3L345.5,500.7L346.9,500.1L348.2,499.5L349.6,499.0L351.0,498.4L352.4,497.9L353.7,497.3L355.1,496.8L356.5,496.3L357.9,495.8L359.4,495.3L360.8,494.8L362.2,494.3L363.6,493.9L365.0,493.4L366.5,493.0L367.9,492.5L369.4,492.1L370.8,491.7L372.2,491.3L373.7,490.8L375.2,490.4L376.6,490.0L378.1,489.7L379.5,489.3L381.0,488.9L382.5,488.5L384.0,488.2L385.4,487.8L386.9,487.5L388.4,487.1L389.9,486.8L391.4,486.5L392.9,486.2L394.4,485.8L395.9,485.5L397.4,485.2L398.9,484.9L400.4,484.6L401.9,484.3L403.4,484.0L404.9,483.7L406.4,483.4L407.9,483.2L409.4,482.9L410.9,482.6L412.4,482.3L413.9,482.1L415.4,481.8L416.9,481.6L418.4,481.3L419.9,481.0L421.4,480.8L422.9,480.5L424.4,480.3L426.0,480.0L427.5,479.8L429.0,479.5L430.5,479.3L432.0,479.0L433.5,478.8L435.0,478.6L436.5,478.3L438.0,478.1L439.5,477.9L441.0,477.6L442.5,477.4L444.0,477.2L445.5,476.9L447.0,476.7L448.5,476.5L450.0,476.3L451.5,476.1L453.0,475.8L454.5,475.6L456.0,475.4L457.5,475.2L459.0,475.0L460.5,474.8L462.0,474.6L463.5,474.4L465.0,474.2L466.5,474.0L468.0,473.8L469.5,473.6L471.0,473.4L472.5,473.2L474.0,473.0L475.5,472.8L477.0,472.6L478.5,472.4L480.0,472.2L481.5,472.1L483.0,471.9L484.5,471.7L486.0,471.5L487.5,471.3L489.0,471.2L490.5,471.0L492.0,470.8L493.5,470.6L495.0,470.5L496.5,470.3L498.0,470.1L499.5,470.0L501.0,469.8L502.5,469.6L504.0,469.5L505.5,469.3L507.0,469.2L508.5,469.0L510.0,468.8L511.5,468.7L513.0,468.5L514.5,468.4L516.0,468.2L517.5,468.1L519.0,467.9L520.5,467.8L522.0,467.6L523.5,467.5L525.0,467.4L526.5,467.2L528.0,467.1L529.5,466.9L531.0,466.8L532.5,466.7L534.0,466.5L535.5,466.4L537.0,466.3L538.5,466.1L540.0,466.0L541.5,465.9L543.0,465.7L544.5,465.6L546.0,465.5L547.5,465.4L549.0,465.2L550.5,465.1L552.0,465.0L553.5,464.9L555.0,464.8L556.5,464.6L558.0,464.5L559.4,464.4L560.9,464.3L562.4,464.2L563.9,464.1L565.4,464.0L566.9,463.9L568.4,463.7L569.9,463.6L571.4,463.5L572.9,463.4L574.4,463.3L575.9,463.2L577.4,463.1L578.9,463.0L580.4,462.9L581.9,462.8L583.4,462.7L584.9,462.6L586.5,462.5L588.0,462.4L589.5,462.3L591.0,462.2L592.5,462.1L594.0,462.0L595.5,461.9L597.0,461.9L598.5,461.8L600.0,461.7L601.5,461.6L603.0,461.5L604.5,461.4L606.0,461.3L607.5,461.2L609.0,461.2L610.5,461.1L612.0,461.0"/>
<path d="M202.0,640.3L201.1,639.3L200.2,638.2L199.4,637.1L198.5,636.0L197.6,634.8L196.7,633.7L195.8,632.5L194.9,631.3L194.0,630.1L193.2,628.9L192.3,627.6L191.4,626.4L190.5,625.1L189.7,623.8L188.8,622.5L188.0,621.2L187.2,619.8L186.3,618.5L185.5,617.1L184.7,615.7L183.9,614.3L183.2,612.9L182.4,611.5L181.6,610.1L180.9,608.7L180.2,607.2L179.5,605.8L178.9,604.4L178.2,602.9L177.6,601.4L177.0,600.0L176.4,598.5L175.8,597.0L175.3,595.5L174.8,594.0L174.3,592.5L173.8,591.0L173.4,589.6L173.0,588.1L172.6,586.6L172.3,585.1L172.0,583.6L171.7,582.1L171.5,580.6L171.3,579.1L171.1,577.6L171.0,576.1L170.9,574.7L170.9,573.2L170.8,571.7L170.9,570.3L170.9,568.8L171.0,567.4L171.2,565.9L171.4,564.5L171.6,563.1L171.8,561.7L172.1,560.3L172.5,558.9L172.8,557.5L173.2,556.1L173.7,554.8L174.2,553.4L174.7,552.1L175.3,550.8L175.9,549.5L176.5,548.2L177.2,547.0L177.9,545.7L178.6,544.5L179.4,543.3L180.2,542.1L181.0,540.9L181.9,539.7L182.8,538.6L183.8,537.5L184.7,536.4L185.7,535.3L186.7,534.2L187.8,533.1L188.8,532.1L189.9,531.1L191.1,530.1L192.2,529.1L193.3,528.1L194.5,527.2L195.7,526.2L196.9,525.3L198.2,524.4L199.4,523.5L200.6,522.6L201.9,521.8L203.2,521.0L204.5,520.1L205.8,519.3L207.1,518.5L208.4,517.8L209.8,517.0L211.1,516.3L212.5,515.6L213.8,514.8L215.2,514.1L216.6,513.5L218.0,512.8L219.4,512.1L220.8,511.5L222.2,510.9L223.6,510.2L225.1,509.6L226.5,509.0L227.9,508.4L229.4,507.9L230.8,507.3L232.3,506.7L233.7,506.2L235.2,505.7L236.6,505.1L238.1,504.6L239.5,504.1L241.0,503.6L242.5,503.1L243.9,502.6L245.4,502.1L246.9,501.7L248.3,501.2L249.8,500.7L251.3,500.3L252.7,499.8L254.2,499.4L255.7,499.0L257.1,498.5L258.6,498.1L260.0,497.7L261.5,497.3L262.9,496.9L264.4,496.5L265.9,496.1L267.3,495.7L268.8,495.3L270.2,494.9L271.7,494.5L273.1,494.1L274.6,493.8L276.0,493.4L277.5,493.0L279.0,492.7L280.4,492.3L281.9,492.0L283.3,491.6L284.8,491.3L286.2,490.9L287.7,490.6L289.1,490.2L290.6,489.9L292.1,489.6L293.5,489.2L295.0,488.9L296.4,488.6L297.9,488.3L299.4,487.9L300.8,487.6L302.3,487.3L303.7,487.0L305.2,486.7L306.7,486.4L308.1,486.1L309.6,485.8L311.1,485.5L312.5,485.2L314.0,484.9L315.5,484.6L316.9,484.3L318.4,484.0L319.9,483.7L321.3,483.4L322.8,483.2L324.3,482.9L325.8,482.6L327.2,482.3L328.7,482.1L330.2,481.8L331.7,481.5L333.1,481.3L334.6,481.0L336.1,480.7L337.6,480.5L339.0,480.2L340.5,480.0L342.0,479.7L343.5,479.5L344.9,479.2L346.4,479.0L347.9,478.7L349.4,478.5L350.9,478.3L352.3,478.0L353.8,477.8L355.3,477.6L356.8,477.3L358.3,477.1L359.8,476.9L361.2,476.7L362.7,476.4L364.2,476.2L365.7,476.0L367.2,475.8L368.7,475.6L370.2,475.4L371.6,475.2L373.1,475.0L374.6,474.8L376.1,474.6L377.6,474.4L379.1,474.2L380.6,474.0L382.1,473.8L383.6,473.6L385.0,473.4L386.5,473.2L388.0,473.0L389.5,472.8L391.0,472.6L392.5,472.4L394.0,472.3L395.5,472.1L397.0,471.9L398.5,471.7L400.0,471.6L401.5,471.4L403.0,471.2L404.5,471.1L406.0,470.9L407.5,470.7L409.0,470.6L410.4,470.4L411.9,470.2L413.4,470.1L414.9,469.9L416.4,469.8L417.9,469.6L419.4,469.5L420.9,469.3L422.4,469.2L423.9,469.0L425.4,468.9L426.9,468.7L428.4,468.6L429.9,468.5L431.4,468.3L432.9,468.2L434.4,468.0L435.9,467.9L437.4,467.8L438.9,467.6L440.4,467.5L441.9,467.4L443.4,467.3L444.9,467.1L446.4,467.0L448.0,466.9L449.5,466.8L451.0,466.6L452.5,466.5L454.0,466.4L455.5,466.3L457.0,466.2L458.5,466.1L460.0,465.9L461.5,465.8L463.0,465.7L464.5,465.6L466.0,465.5L467.5,465.4L469.0,465.3L470.5,465.2L472.0,465.1L473.5,465.0L475.0,464.9L476.5,464.8L478.0,464.7L479.6,464.6L481.1,464.5L482.6,464.4L484.1,464.3L485.6,464.2L487.1,464.1L488.6,464.0L490.1,463.9L491.6,463.9L493.1,463.8L494.6,463.7L496.1,463.6L497.6,463.5L499.1,463.4L500.6,463.3L502.2,463.3L503.7,463.2L505.2,463.1L506.7,463.0L508.2,462.9L509.7,462.9L511.2,462.8L512.7,462.7L514.2,462.6L515.7,462.6L517.2,462.5L518.7,462.4L520.2,462.3L521.8,462.3L523.3,462.2L524.8,462.1L526.3,462.1L527.8,462.0L529.3,461.9L530.8,461.9L532.3,461.8L533.8,461.7L535.3,461.7L536.8,461.6L538.3,461.5L539.8,461.5L541.3,461.4L542.9,461.4L544.4,461.3L545.9,461.2L547.4,461.2L548.9,461.1L550.4,461.1L551.9,461.0L553.4,460.9L554.9,460.9L556.4,460.8L557.9,460.8L559.4,460.7L560.9,460.7L562.4,460.6L563.9,460.6L565.4,460.5L566.9,460.5L568.4,460.4L570.0,460.3L571.5,460.3L573.0,460.2L574.5,460.2L576.0,460.1L577.5,460.1L579.0,460.0L580.5,460.0L582.0,459.9L583.5,459.9L585.0,459.8L586.5,459.8L588.0,459.7L589.5,459.7L591.0,459.7L592.5,459.6L594.0,459.6L595.5,459.5L597.0,459.5L598.5,459.4L600.0,459.4L601.5,459.3L603.0,459.3L604.5,459.2L606.0,459.2L607.5,459.1L609.0,459.1L610.5,459.0L612.0,459.0"/>
<path d="M378.5,640.5L378.5,639.1L378.5,637.7L378.4,636.3L378.4,634.9L378.4,633.4L378.3,632.0L378.3,630.5L378.3,629.1L378.2,627.6L378.2,626.1L378.2,624.6L378.1,623.1L378.1,621.5L378.1,620.0L378.0,618.5L378.0,616.9L378.0,615.4L378.0,613.8L378.0,612.3L378.0,610.7L378.0,609.1L378.1,607.6L378.1,606.0L378.1,604.4L378.2,602.8L378.2,601.2L378.3,599.7L378.4,598.1L378.5,596.5L378.6,594.9L378.7,593.4L378.8,591.8L379.0,590.2L379.1,588.7L379.3,587.1L379.5,585.5L379.7,584.0L380.0,582.5L380.2,580.9L380.5,579.4L380.8,577.9L381.1,576.4L381.4,574.9L381.7,573.4L382.1,571.9L382.5,570.4L382.9,569.0L383.3,567.5L383.8,566.1L384.3,564.7L384.8,563.3L385.3,561.9L385.9,560.5L386.5,559.1L387.1,557.8L387.7,556.5L388.4,555.2L389.1,553.9L389.8,552.6L390.6,551.3L391.4,550.1L392.2,548.9L393.1,547.7L393.9,546.5L394.8,545.4L395.8,544.2L396.7,543.1L397.7,542.0L398.7,540.9L399.7,539.8L400.7,538.8L401.8,537.7L402.9,536.7L404.0,535.7L405.1,534.7L406.2,533.7L407.4,532.8L408.6,531.8L409.7,530.9L410.9,530.0L412.1,529.1L413.4,528.2L414.6,527.3L415.8,526.4L417.1,525.6L418.3,524.8L419.6,523.9L420.9,523.1L422.2,522.3L423.4,521.5L424.7,520.8L426.0,520.0L427.3,519.2L428.6,518.5L430.0,517.8L431.3,517.1L432.6,516.3L433.9,515.7L435.3,515.0L436.6,514.3L438.0,513.6L439.3,513.0L440.7,512.3L442.1,511.7L443.4,511.1L444.8,510.4L446.2,509.8L447.6,509.2L448.9,508.6L450.3,508.1L451.7,507.5L453.1,506.9L454.5,506.4L456.0,505.8L457.4,505.3L458.8,504.8L460.2,504.2L461.6,503.7L463.1,503.2L464.5,502.7L465.9,502.2L467.4,501.7L468.8,501.2L470.2,500.8L471.7,500.3L473.1,499.8L474.6,499.4L476.1,498.9L477.5,498.5L479.0,498.0L480.4,497.6L481.9,497.2L483.4,496.8L484.8,496.3L486.3,495.9L487.8,495.5L489.3,495.1L490.7,494.7L492.2,494.3L493.7,493.9L495.2,493.6L496.7,493.2L498.1,492.8L499.6,492.4L501.1,492.0L502.6,491.7L504.1,491.3L505.6,490.9L507.1,490.6L508.6,490.2L510.0,489.9L511.5,489.5L513.0,489.2L514.5,488.8L516.0,488.5L517.5,488.1L519.0,487.8L520.5,487.4L522.0,487.1L523.5,486.7L524.9,486.4L526.4,486.1L527.9,485.7L529.4,485.4L530.9,485.0L532.4,484.7L533.9,484.4L535.3,484.0L536.8,483.7L538.3,483.3L539.8,483.0L541.2,482.6L542.7,482.3L544.2,481.9L545.7,481.6L547.1,481.3L548.6,480.9L550.1,480.6L551.5,480.2L553.0,479.9L554.5,479.5L555.9,479.2L557.4,478.8L558.9,478.5L560.3,478.1L561.8,477.8L563.2,477.5L564.7,477.1L566.2,476.8L567.6,476.5L569.1,476.1L570.6,475.8L572.0,475.5L573.5,475.2L574.9,474.8L576.4,474.5L577.9,474.2L579.3,473.9L580.8,473.6L582.3,473.3L583.7,473.0L585.2,472.7L586.7,472.4L588.2,472.2L589.6,471.9L591.1,471.6L592.6,471.3L594.1,471.1L595.5,470.8L597.0,470.6L598.5,470.3L600.0,470.1L601.5,469.9L603.0,469.7L604.5,469.5L606.0,469.2L607.5,469.0L609.0,468.9L610.5,468.7L612.0,468.5"/>
<path d="M407.2,640.3L408.3,639.3L409.4,638.3L410.6,637.2L411.7,636.2L412.8,635.2L414.0,634.2L415.1,633.2L416.2,632.2L417.4,631.1L418.5,630.1L419.6,629.1L420.8,628.1L421.9,627.1L423.0,626.1L424.2,625.1L425.3,624.1L426.5,623.1L427.6,622.1L428.8,621.2L429.9,620.2L431.1,619.2L432.2,618.2L433.4,617.2L434.5,616.2L435.7,615.3L436.8,614.3L438.0,613.3L439.2,612.3L440.3,611.4L441.5,610.4L442.7,609.4L443.8,608.4L445.0,607.5L446.2,606.5L447.3,605.6L448.5,604.6L449.7,603.6L450.8,602.7L452.0,601.7L453.2,600.8L454.4,599.8L455.6,598.9L456.7,597.9L457.9,597.0L459.1,596.0L460.3,595.1L461.5,594.2L462.7,593.2L463.9,592.3L465.0,591.4L466.2,590.4L467.4,589.5L468.6,588.6L469.8,587.6L471.0,586.7L472.2,585.8L473.4,584.9L474.6,583.9L475.8,583.0L477.0,582.1L478.2,581.2L479.4,580.3L480.6,579.4L481.8,578.4L483.0,577.5L484.3,576.6L485.5,575.7L486.7,574.8L487.9,573.9L489.1,573.0L490.3,572.1L491.5,571.2L492.8,570.3L494.0,569.4L495.2,568.5L496.4,567.6L497.6,566.8L498.9,565.9L500.1,565.0L501.3,564.1L502.6,563.2L503.8,562.3L505.0,561.5L506.2,560.6L507.5,559.7L508.7,558.8L509.9,558.0L511.2,557.1L512.4,556.2L513.7,555.3L514.9,554.5L516.1,553.6L517.4,552.8L518.6,551.9L519.9,551.0L521.1,550.2L522.4,549.3L523.6,548.5L524.9,547.6L526.1,546.8L527.3,545.9L528.6,545.1L529.9,544.2L531.1,543.4L532.4,542.5L533.6,541.7L534.9,540.8L536.1,540.0L537.4,539.1L538.6,538.3L539.9,537.5L541.2,536.6L542.4,535.8L543.7,535.0L545.0,534.1L546.2,533.3L547.5,532.5L548.8,531.7L550.0,530.8L551.3,530.0L552.6,529.2L553.8,528.4L555.1,527.6L556.4,526.7L557.7,525.9L558.9,525.1L560.2,524.3L561.5,523.5L562.8,522.7L564.1,521.9L565.3,521.1L566.6,520.3L567.9,519.5L569.2,518.7L570.5,517.9L571.7,517.1L573.0,516.3L574.3,515.5L575.6,514.7L576.9,513.9L578.2,513.1L579.5,512.3L580.8,511.5L582.1,510.7L583.4,509.9L584.6,509.1L585.9,508.4L587.2,507.6L588.5,506.8L589.8,506.0L591.1,505.2L592.4,504.5L593.7,503.7L595.0,502.9L596.3,502.1L597.6,501.4L598.9,500.6L600.2,499.8L601.5,499.1L602.9,498.3L604.2,497.5L605.5,496.8L606.8,496.0L608.1,495.2L609.4,494.5L610.7,493.7L612.0,493.0L613.3,492.2L614.6,491.4L616.0,490.7L617.3,489.9L618.6,489.2L619.9,488.4L621.2,487.7L622.5,486.9L623.9,486.2L625.2,485.5L626.5,484.7L627.8,484.0L629.1,483.2L630.5,482.5L631.8,481.7L633.1,481.0"/>
<path d="M568.0,640.0L567.9,638.5L567.9,637.0L567.8,635.5L567.8,634.0L567.7,632.5L567.7,630.9L567.7,629.4L567.7,627.9L567.7,626.4L567.7,624.9L567.8,623.4L567.8,621.8L567.9,620.3L567.9,618.8L568.0,617.3L568.1,615.8L568.2,614.3L568.3,612.7L568.4,611.2L568.6,609.7L568.7,608.2L568.9,606.7L569.0,605.2L569.2,603.6L569.4,602.1L569.6,600.6L569.8,599.1L570.0,597.6L570.2,596.1L570.5,594.6L570.7,593.1L571.0,591.6L571.3,590.1L571.6,588.6L571.8,587.1L572.2,585.6L572.5,584.1L572.8,582.6L573.1,581.1L573.5,579.7L573.9,578.2L574.2,576.7L574.6,575.2L575.0,573.8L575.4,572.3L575.8,570.9L576.3,569.4L576.7,568.0L577.2,566.5L577.6,565.1L578.1,563.6L578.6,562.2L579.1,560.8L579.6,559.3L580.1,557.9L580.7,556.5L581.2,555.1L581.8,553.7L582.4,552.3L582.9,550.9L583.5,549.5L584.1,548.2L584.7,546.8L585.4,545.4L586.0,544.0L586.7,542.7L587.3,541.3L588.0,540.0L588.7,538.7L589.4,537.3L590.1,536.0L590.8,534.7L591.5,533.4L592.3,532.1L593.0,530.8L593.8,529.5L594.6,528.2L595.4,527.0L596.2,525.7L597.0,524.4L597.8,523.2L598.7,522.0L599.5,520.7L600.4,519.5L601.3,518.3L602.2,517.1L603.1,515.9L604.0,514.7L604.9,513.5L605.8,512.4L606.8,511.2L607.7,510.1L608.7,508.9L609.7,507.8L610.7,506.7L611.7,505.6L612.7,504.5L613.8,503.4L614.8,502.3L615.9,501.3L616.9,500.2L618.0,499.2L619.1,498.1L620.2,497.1L621.3,496.1L622.5,495.1L623.6,494.1L624.8,493.1L625.9,492.2L627.1,491.2L628.3,490.3L629.5,489.3L630.7,488.4L632.0,487.5L633.2,486.6L634.5,485.7L635.7,484.9L637.0,484.0L638.3,483.2L639.6,482.3L640.9,481.5"/>
<path d="M602.3,640.0L603.6,639.1L604.8,638.1L606.0,637.1L607.2,636.2L608.4,635.2L609.6,634.2L610.8,633.2L612.0,632.2L613.1,631.2L614.3,630.1L615.4,629.1L616.5,628.1L617.7,627.0L618.8,625.9L619.8,624.9L620.9,623.8L622.0,622.7L623.0,621.6L624.1,620.5L625.1,619.3L626.1,618.2L627.1,617.1L628.1,615.9L629.1,614.8L630.1,613.6L631.0,612.5L632.0,611.3L632.9,610.1L633.8,608.9L634.7,607.7L635.6,606.5L636.5,605.3L637.4,604.0L638.3,602.8L639.1,601.6L640.0,600.3L640.8,599.1L641.6,597.8L642.5,596.6L643.3,595.3L644.0,594.0L644.8,592.7L645.6,591.4L646.4,590.1L647.1,588.8L647.8,587.5L648.6,586.2L649.3,584.9L650.0,583.6L650.7,582.2L651.4,580.9L652.0,579.5L652.7,578.2L653.4,576.8L654.0,575.5L654.6,574.1L655.3,572.7L655.9,571.3L656.5,570.0L657.1,568.6L657.6,567.2L658.2,565.8L658.8,564.4L659.3,563.0L659.9,561.6L660.4,560.1L660.9,558.7L661.4,557.3L661.9,555.9L662.4,554.4L662.9,553.0L663.4,551.6L663.8,550.1L664.3,548.7L664.7,547.2L665.2,545.8L665.6,544.3L666.0,542.9L666.4,541.4L666.8,539.9L667.2,538.5L667.6,537.0L667.9,535.5L668.3,534.0L668.6,532.5L669.0,531.1L669.3,529.6L669.6,528.1L669.9,526.6L670.2,525.1L670.5,523.6L670.8,522.1L671.1,520.6L671.4,519.1L671.6,517.6L671.9,516.1L672.1,514.6L672.3,513.1L672.6,511.6L672.8,510.1L673.0,508.6L673.2,507.1L673.4,505.6L673.5,504.0L673.7,502.5L673.9,501.0L674.0,499.5L674.2,498.0L674.3,496.5L674.4,494.9L674.5,493.4L674.7,491.9L674.8,490.4L674.8,488.9L674.9,487.4L675.0,485.8L675.1,484.3L675.1,482.8L675.2,481.3"/>
<path d="M773.5,541.4L772.3,540.4L771.1,539.4L769.9,538.4L768.8,537.4L767.6,536.4L766.4,535.4L765.2,534.4L764.0,533.4L762.9,532.4L761.7,531.4L760.5,530.4L759.3,529.4L758.2,528.4L757.0,527.4L755.8,526.4L754.6,525.4L753.5,524.4L752.3,523.3L751.1,522.3L750.0,521.3L748.8,520.3L747.6,519.3L746.5,518.3L745.3,517.2L744.1,516.2L743.0,515.2L741.8,514.2L740.6,513.2L739.5,512.1L738.3,511.1L737.2,510.1L736.0,509.1L734.9,508.0L733.7,507.0L732.5,506.0L731.4,505.0L730.2,503.9L729.1,502.9L727.9,501.9L726.8,500.8L725.6,499.8L724.5,498.8L723.3,497.7L722.2,496.7L721.0,495.6L719.9,494.6L718.8,493.6L717.6,492.5L716.5,491.5L715.3,490.4L714.2,489.4L713.1,488.3L711.9,487.3L710.8,486.3L709.6,485.2L708.5,484.2L707.4,483.1L706.2,482.1L705.1,481.0"/>
<path d="M829.7,639.9L831.0,639.3L832.3,638.7L833.7,638.1L835.0,637.5L836.3,636.8L837.6,636.1L838.9,635.4L840.2,634.7L841.5,633.9L842.8,633.1L844.1,632.3L845.4,631.4L846.7,630.6L847.9,629.7L849.2,628.8L850.4,627.8L851.7,626.9L852.9,625.9L854.1,624.9L855.3,623.9L856.5,622.9L857.7,621.8L858.8,620.8L860.0,619.7L861.1,618.6L862.2,617.5L863.3,616.4L864.4,615.2L865.5,614.0L866.5,612.9L867.5,611.7L868.5,610.5L869.5,609.2L870.5,608.0L871.4,606.7L872.3,605.5L873.2,604.2L874.1,602.9L874.9,601.6L875.7,600.3L876.5,599.0L877.3,597.7L878.0,596.4L878.7,595.0L879.4,593.7L880.0,592.3L880.7,590.9L881.2,589.6L881.8,588.2L882.3,586.8L882.8,585.4L883.3,584.0L883.7,582.6L884.1,581.2L884.4,579.8L884.7,578.3L885.0,576.9L885.3,575.5L885.5,574.1L885.6,572.6L885.7,571.2L885.8,569.8L885.9,568.4L885.9,566.9L885.8,565.5L885.8,564.1L885.6,562.6L885.5,561.2L885.3,559.8L885.1,558.4L884.8,557.0L884.5,555.5L884.1,554.1L883.8,552.7L883.3,551.3L882.9,549.9L882.4,548.5L881.9,547.1L881.4,545.7L880.8,544.4L880.2,543.0L879.6,541.6L878.9,540.2L878.2,538.9L877.5,537.5L876.8,536.2L876.0,534.9L875.2,533.6L874.4,532.2L873.6,530.9L872.8,529.6L871.9,528.4L871.0,527.1L870.1,525.8L869.1,524.6L868.2,523.3L867.2,522.1L866.2,520.9L865.2,519.7L864.2,518.5L863.2,517.3L862.1,516.1L861.0,515.0L860.0,513.9L858.9,512.7L857.8,511.6L856.7,510.5L855.5,509.5L854.4,508.4L853.3,507.4L852.1,506.3L851.0,505.3L849.8,504.3L848.6,503.3L847.4,502.4L846.2,501.4L845.0,500.5L843.8,499.6L842.6,498.6L841.4,497.7L840.1,496.9L838.9,496.0L837.6,495.1L836.4,494.3L835.1,493.5L833.8,492.7L832.6,491.9L831.3,491.1L830.0,490.3L828.7,489.6L827.3,488.8L826.0,488.1L824.7,487.4L823.4,486.7L822.0,486.0L820.7,485.3L819.3,484.7L818.0,484.0L816.6,483.4L815.2,482.7L813.9,482.1L812.5,481.5L811.1,480.9L809.7,480.4L808.3,479.8L806.9,479.3L805.5,478.7L804.1,478.2L802.7,477.7L801.2,477.2L799.8,476.7L798.4,476.2L797.0,475.7L795.5,475.3L794.1,474.8L792.6,474.4L791.2,474.0L789.7,473.6L788.3,473.2L786.8,472.8L785.3,472.4L783.9,472.0L782.4,471.7L780.9,471.3L779.5,471.0L778.0,470.6L776.5,470.3L775.0,470.0L773.5,469.7L772.0,469.4L770.6,469.1L769.1,468.9L767.6,468.6L766.1,468.4L764.6,468.1L763.1,467.9L761.6,467.7L760.1,467.5L758.6,467.3L757.1,467.1L755.6,466.9L754.1,466.7L752.6,466.5L751.1,466.4L749.6,466.2L748.1,466.1L746.6,466.0L745.1,465.8L743.6,465.7L742.1,465.6L740.6,465.5"/>
<path d="M991.1,541.5L989.9,540.5L988.8,539.5L987.6,538.4L986.4,537.4L985.3,536.5L984.1,535.5L982.9,534.5L981.7,533.5L980.5,532.6L979.3,531.7L978.1,530.7L976.9,529.8L975.6,528.9L974.4,528.0L973.2,527.1L971.9,526.2L970.7,525.4L969.4,524.5L968.2,523.6L966.9,522.8L965.6,522.0L964.3,521.2L963.1,520.3L961.8,519.5L960.5,518.8L959.2,518.0L957.9,517.2L956.6,516.5L955.3,515.7L954.0,515.0L952.6,514.2L951.3,513.5L950.0,512.8L948.6,512.1L947.3,511.5L946.0,510.8L944.6,510.1L943.3,509.5L941.9,508.8L940.5,508.2L939.2,507.6L937.8,507.0L936.4,506.4L935.0,505.8L933.7,505.2L932.3,504.6L930.9,504.1L929.5,503.5L928.1,503.0L926.7,502.5L925.3,501.9L923.9,501.4L922.5,500.9L921.0,500.4L919.6,499.9L918.2,499.4L916.8,499.0L915.4,498.5L913.9,498.0L912.5,497.6L911.0,497.1L909.6,496.7L908.2,496.2L906.7,495.8L905.3,495.4L903.8,495.0L902.4,494.6L900.9,494.2L899.5,493.8L898.0,493.4L896.5,493.0L895.1,492.6L893.6,492.2L892.2,491.8L890.7,491.5L889.2,491.1L887.7,490.7L886.3,490.4L884.8,490.0L883.3,489.6L881.8,489.3L880.4,488.9L878.9,488.6L877.4,488.3L875.9,487.9L874.5,487.6L873.0,487.3L871.5,486.9L870.0,486.6L868.5,486.3L867.0,485.9L865.6,485.6L864.1,485.3L862.6,485.0L861.1,484.6L859.6,484.3L858.1,484.0L856.6,483.7L855.2,483.3L853.7,483.0L852.2,482.7L850.7,482.4L849.2,482.1L847.7,481.7L846.3,481.4L844.8,481.1L843.3,480.8L841.8,480.5L840.3,480.2L838.8,479.8L837.3,479.5L835.9,479.2L834.4,478.9L832.9,478.6L831.4,478.3L829.9,478.0L828.4,477.7L826.9,477.4L825.5,477.1L824.0,476.8L822.5,476.5L821.0,476.2L819.5,475.9L818.0,475.6L816.5,475.3L815.0,475.0L813.6,474.8L812.1,474.5L810.6,474.2L809.1,473.9L807.6,473.6L806.1,473.4L804.6,473.1L803.1,472.8L801.6,472.5L800.1,472.3L798.7,472.0L797.2,471.8L795.7,471.5L794.2,471.2L792.7,471.0L791.2,470.7L789.7,470.5L788.2,470.3L786.7,470.0L785.2,469.8L783.7,469.5L782.2,469.3L780.7,469.1L779.2,468.9L777.8,468.6L776.3,468.4L774.8,468.2L773.3,468.0L771.8,467.8L770.3,467.6L768.8,467.4L767.3,467.2L765.8,467.0L764.3,466.8L762.8,466.6L761.3,466.4L759.8,466.2L758.3,466.1L756.8,465.9L755.3,465.7L753.8,465.6L752.3,465.4L750.7,465.3L749.2,465.1L747.7,465.0L746.2,464.8L744.7,464.7L743.2,464.5L741.7,464.4L740.2,464.3"/>
<path d="M1137.7,547.8L1136.2,547.4L1134.8,547.0L1133.3,546.6L1131.9,546.2L1130.4,545.8L1129.0,545.4L1127.5,545.0L1126.1,544.6L1124.6,544.2L1123.2,543.8L1121.7,543.4L1120.3,543.0L1118.8,542.5L1117.4,542.1L1115.9,541.7L1114.5,541.3L1113.0,540.9L1111.6,540.5L1110.1,540.0L1108.7,539.6L1107.2,539.2L1105.8,538.8L1104.3,538.4L1102.9,537.9L1101.4,537.5L1100.0,537.1L1098.6,536.7L1097.1,536.2L1095.7,535.8L1094.2,535.4L1092.8,534.9L1091.3,534.5L1089.9,534.1L1088.4,533.6L1087.0,533.2L1085.6,532.8L1084.1,532.3L1082.7,531.9L1081.2,531.5L1079.8,531.0L1078.3,530.6L1076.9,530.2L1075.5,529.7L1074.0,529.3L1072.6,528.9L1071.1,528.4L1069.7,528.0L1068.2,527.5L1066.8,527.1L1065.4,526.7L1063.9,526.2L1062.5,525.8L1061.0,525.4L1059.6,524.9L1058.1,524.5L1056.7,524.1L1055.3,523.6L1053.8,523.2L1052.4,522.7L1050.9,522.3L1049.5,521.9L1048.0,521.4L1046.6,521.0L1045.1,520.6L1043.7,520.1L1042.3,519.7L1040.8,519.3L1039.4,518.8L1037.9,518.4L1036.5,518.0L1035.0,517.6L1033.6,517.1L1032.2,516.7L1030.7,516.3L1029.3,515.8L1027.8,515.4L1026.4,515.0L1024.9,514.6L1023.5,514.2L1022.0,513.7L1020.6,513.3L1019.1,512.9L1017.7,512.5L1016.2,512.1L1014.8,511.6L1013.3,511.2L1011.9,510.8L1010.4,510.4L1009.0,510.0L1007.5,509.6L1006.1,509.2L1004.6,508.8L1003.2,508.4L1001.7,508.0L1000.3,507.6L998.8,507.2L997.4,506.8L995.9,506.4L994.5,506.0L993.0,505.6L991.6,505.2L990.1,504.8L988.7,504.4L987.2,504.0L985.8,503.6L984.3,503.3L982.8,502.9L981.4,502.5L979.9,502.1L978.5,501.8L977.0,501.4L975.5,501.0L974.1,500.6L972.6,500.3L971.2,499.9L969.7,499.6L968.2,499.2L966.8,498.8L965.3,498.5L963.9,498.1L962.4,497.8L960.9,497.4L959.5,497.1L958.0,496.7L956.5,496.4L955.1,496.0L953.6,495.7L952.1,495.3L950.7,495.0L949.2,494.7L947.7,494.3L946.3,494.0L944.8,493.7L943.3,493.3L941.8,493.0L940.4,492.7L938.9,492.4L937.4,492.0L936.0,491.7L934.5,491.4L933.0,491.1L931.5,490.8L930.1,490.5L928.6,490.1L927.1,489.8L925.7,489.5L924.2,489.2L922.7,488.9L921.2,488.6L919.8,488.3L918.3,488.0L916.8,487.7L915.3,487.4L913.8,487.1L912.4,486.8L910.9,486.5L909.4,486.3L907.9,486.0L906.4,485.7L905.0,485.4L903.5,485.1L902.0,484.8L900.5,484.6L899.0,484.3L897.6,484.0L896.1,483.7L894.6,483.5L893.1,483.2L891.6,482.9L890.2,482.7L888.7,482.4L887.2,482.1L885.7,481.9L884.2,481.6L882.7,481.3L881.2,481.1L879.8,480.8L878.3,480.6L876.8,480.3L875.3,480.1L873.8,479.8L872.3,479.6L870.8,479.3L869.4,479.1L867.9,478.9L866.4,478.6L864.9,478.4L863.4,478.1L861.9,477.9L860.4,477.7L858.9,477.4L857.4,477.2L856.0,477.0L854.5,476.8L853.0,476.5L851.5,476.3L850.0,476.1L848.5,475.9L847.0,475.7L845.5,475.4L844.0,475.2L842.5,475.0L841.0,474.8L839.5,474.6L838.1,474.4L836.6,474.2L835.1,474.0L833.6,473.8L832.1,473.6L830.6,473.4L829.1,473.2L827.6,473.0L826.1,472.8L824.6,472.6L823.1,472.4L821.6,472.2L820.1,472.0L818.6,471.8L817.1,471.6L815.6,471.4L814.1,471.2L812.6,471.1L811.1,470.9L809.6,470.7L808.1,470.5L806.6,470.3L805.1,470.2L803.6,470.0L802.1,469.8L800.7,469.6L799.2,469.5L797.7,469.3L796.2,469.1L794.7,469.0L793.2,468.8L791.7,468.7L790.2,468.5L788.7,468.3L787.2,468.2L785.7,468.0L784.2,467.9L782.7,467.7L781.2,467.6L779.7,467.4L778.2,467.3L776.7,467.1L775.2,467.0L773.7,466.8L772.2,466.7L770.7,466.5L769.1,466.4L767.6,466.3L766.1,466.1L764.6,466.0L763.1,465.9L761.6,465.7L760.1,465.6L758.6,465.5L757.1,465.3L755.6,465.2L754.1,465.1L752.6,464.9L751.1,464.8L749.6,464.7L748.1,464.6L746.6,464.5L745.1,464.3L743.6,464.2L742.1,464.1L740.6,464.0"/>
<path d="M1089.0,749.1L1090.2,748.1L1091.4,747.1L1092.5,746.0L1093.6,745.0L1094.7,743.9L1095.8,742.8L1096.8,741.7L1097.8,740.5L1098.8,739.4L1099.7,738.2L1100.6,737.0L1101.5,735.8L1102.3,734.6L1103.2,733.4L1104.0,732.1L1104.7,730.9L1105.5,729.6L1106.2,728.3L1106.9,727.0L1107.6,725.7L1108.2,724.3L1108.9,723.0L1109.5,721.6L1110.1,720.3L1110.7,718.9L1111.2,717.5L1111.7,716.1L1112.3,714.7L1112.8,713.3L1113.2,711.8L1113.7,710.4L1114.1,709.0L1114.6,707.5L1115.0,706.0L1115.4,704.6L1115.8,703.1L1116.1,701.6L1116.5,700.1L1116.8,698.6L1117.2,697.1L1117.5,695.6L1117.8,694.1L1118.1,692.6L1118.4,691.1L1118.7,689.5L1118.9,688.0L1119.2,686.5L1119.4,684.9L1119.7,683.4L1119.9,681.9L1120.1,680.3L1120.4,678.8L1120.6,677.3L1120.8,675.7L1121.0,674.2L1121.2,672.6L1121.3,671.1L1121.5,669.5L1121.6,668.0L1121.8,666.5L1121.9,664.9L1122.0,663.4L1122.2,661.8L1122.3,660.3L1122.3,658.7L1122.4,657.2L1122.5,655.7L1122.5,654.1L1122.6,652.6L1122.6,651.1L1122.6,649.5L1122.6,648.0L1122.6,646.5L1122.6,644.9L1122.5,643.4L1122.5,641.9L1122.4,640.4L1122.3,638.9L1122.2,637.3L1122.1,635.8L1121.9,634.3L1121.8,632.8L1121.6,631.3L1121.4,629.8L1121.2,628.4L1121.0,626.9L1120.8,625.4L1120.5,623.9L1120.2,622.5L1119.9,621.0L1119.6,619.5L1119.3,618.1L1119.0,616.6L1118.6,615.2L1118.2,613.7L1117.8,612.3L1117.4,610.9L1117.0,609.5L1116.5,608.0L1116.0,606.6L1115.5,605.2L1115.0,603.8L1114.5,602.5L1113.9,601.1L1113.4,599.7L1112.8,598.3L1112.1,597.0L1111.5,595.6L1110.9,594.3L1110.2,592.9L1109.5,591.6L1108.8,590.3L1108.0,589.0L1107.3,587.7L1106.5,586.3L1105.8,585.1L1105.0,583.8L1104.2,582.5L1103.4,581.2L1102.5,579.9L1101.7,578.6L1100.8,577.4L1100.0,576.1L1099.1,574.9L1098.2,573.6L1097.3,572.4L1096.4,571.1L1095.5,569.9L1094.6,568.6L1093.7,567.4L1092.8,566.2L1091.9,565.0L1091.0,563.7L1090.0,562.5L1089.1,561.3L1088.2,560.1L1087.2,558.9L1086.3,557.7L1085.4,556.5L1084.4,555.3L1083.5,554.1L1082.6,552.9L1081.7,551.7L1080.7,550.5L1079.8,549.3L1078.9,548.1L1078.0,546.9L1077.1,545.7L1076.2,544.6L1075.3,543.4L1074.5,542.2L1073.6,541.0L1073.6,541.0L1072.2,540.6L1070.7,540.1L1069.3,539.7L1067.8,539.2L1066.4,538.8L1065.0,538.3L1063.5,537.9L1062.1,537.5L1060.6,537.0L1059.2,536.6L1057.8,536.1L1056.3,535.7L1054.9,535.3L1053.4,534.8L1052.0,534.4L1050.5,533.9L1049.1,533.5L1047.7,533.0L1046.2,532.6L1044.8,532.2L1043.3,531.7L1041.9,531.3L1040.4,530.8L1039.0,530.4L1037.6,530.0L1036.1,529.5L1034.7,529.1L1033.2,528.6L1031.8,528.2L1030.3,527.8L1028.9,527.3L1027.4,526.9L1026.0,526.4L1024.6,526.0L1023.1,525.6L1021.7,525.1L1020.2,524.7L1018.8,524.3L1017.3,523.8L1015.9,523.4L1014.4,523.0L1013.0,522.5L1011.5,522.1L1010.1,521.7L1008.6,521.2L1007.2,520.8L1005.8,520.4L1004.3,519.9L1002.9,519.5L1001.4,519.1L1000.0,518.7L998.5,518.2L997.1,517.8L995.6,517.4L994.2,517.0L992.7,516.5L991.3,516.1L989.8,515.7L988.4,515.3L986.9,514.9L985.5,514.4L984.0,514.0L982.6,513.6L981.1,513.2L979.6,512.8L978.2,512.4L976.7,511.9L975.3,511.5L973.8,511.1L972.4,510.7L970.9,510.3L969.5,509.9L968.0,509.5L966.6,509.1L965.1,508.7L963.6,508.3L962.2,507.9L960.7,507.5L959.3,507.1L957.8,506.7L956.4,506.3L954.9,505.9L953.4,505.5L952.0,505.1L950.5,504.7L949.1,504.3L947.6,504.0L946.2,503.6L944.7,503.2L943.2,502.8L941.8,502.4L940.3,502.1L938.9,501.7L937.4,501.3L935.9,500.9L934.5,500.6L933.0,500.2L931.5,499.8L930.1,499.4L928.6,499.1L927.1,498.7L925.7,498.3L924.2,498.0L922.8,497.6L921.3,497.3L919.8,496.9L918.4,496.6L916.9,496.2L915.4,495.9L913.9,495.5L912.5,495.2L911.0,494.8L909.5,494.5L908.1,494.1L906.6,493.8L905.1,493.5L903.7,493.1L902.2,492.8L900.7,492.5L899.2,492.1L897.8,491.8L896.3,491.5L894.8,491.2L893.4,490.8L891.9,490.5L890.4,490.2L888.9,489.9L887.5,489.6L886.0,489.3L884.5,489.0L883.0,488.7L881.5,488.4L880.1,488.1L878.6,487.8L877.1,487.5L875.6,487.2L874.2,486.9L872.7,486.6L871.2,486.3L869.7,486.0L868.2,485.8L866.7,485.5L865.3,485.2L863.8,484.9L862.3,484.7L860.8,484.4L859.3,484.1L857.8,483.9L856.4,483.6L854.9,483.4L853.4,483.1L851.9,482.8L850.4,482.6L848.9,482.3L847.4,482.1L845.9,481.8L844.5,481.6L843.0,481.4L841.5,481.1L840.0,480.9L838.5,480.6L837.0,480.4L835.5,480.1L834.0,479.9L832.5,479.7L831.1,479.4L829.6,479.2L828.1,478.9L826.6,478.7L825.1,478.5L823.6,478.2L822.1,478.0L820.6,477.7L819.1,477.5L817.7,477.2L816.2,477.0L814.7,476.7L813.2,476.5L811.7,476.2L810.2,476.0L808.7,475.7L807.2,475.5L805.7,475.2L804.3,474.9L802.8,474.7L801.3,474.4L799.8,474.1L798.3,473.9L796.8,473.6L795.4,473.3L793.9,473.0L792.4,472.7L790.9,472.4L789.4,472.2L787.9,471.9L786.5,471.6L785.0,471.3L783.5,471.0L782.0,470.7L780.5,470.5L779.0,470.2L777.6,469.9L776.1,469.6L774.6,469.4L773.1,469.1L771.6,468.8L770.1,468.6L768.6,468.3L767.2,468.1L765.7,467.8L764.2,467.6L762.7,467.4L761.2,467.2L759.7,466.9L758.2,466.7L756.7,466.5L755.2,466.3L753.7,466.2L752.2,466.0L750.7,465.8L749.2,465.7L747.7,465.5L746.2,465.4L744.7,465.3L743.2,465.2L741.7,465.1L740.2,465.0"/>
<path d="M235.6,640.3L236.4,639.0L237.2,637.6L237.9,636.3L238.7,634.9L239.5,633.6L240.3,632.3L241.1,630.9L241.8,629.6L242.6,628.2L243.4,626.9L244.2,625.6L244.9,624.2L245.7,622.9L246.5,621.5L247.3,620.2L248.0,618.9L248.8,617.5L249.6,616.2L250.4,614.8L251.1,613.5L251.9,612.1L252.7,610.8L253.5,609.4L254.2,608.1L255.0,606.8L255.8,605.4L256.5,604.1L257.3,602.7L258.1,601.4L258.8,600.0L259.6,598.7L260.4,597.3L261.1,596.0L261.9,594.6L262.7,593.3L263.4,591.9L264.2,590.6"/>
<path d="M356.2,640.3L355.0,639.3L353.8,638.3L352.6,637.3L351.4,636.3L350.3,635.3L349.1,634.3L347.9,633.2L346.7,632.2L345.6,631.2L344.4,630.2L343.2,629.2L342.0,628.1L340.9,627.1L339.7,626.1L338.6,625.0L337.4,624.0L336.3,622.9L335.1,621.9L333.9,620.9L332.8,619.8L331.7,618.8L330.5,617.7L329.4,616.7L328.2,615.6L327.1,614.5L326.0,613.5L324.8,612.4L323.7,611.3L322.6,610.3L321.5,609.2L320.3,608.1L319.2,607.0L318.1,606.0L317.0,604.9L315.9,603.8L314.8,602.7L313.6,601.6L312.5,600.5L311.4,599.4L310.3,598.3L309.2,597.2L308.1,596.1L307.1,595.0L306.0,593.9L304.9,592.8L303.8,591.7L302.7,590.6"/>
<path d="M508.6,643.0L331.8,585.6"/>
<path d="M722.5,652.8L332.2,587.3"/>
<path d="M1018.1,639.7L1018.1,638.1L1018.1,636.6L1018.1,635.0L1018.1,633.5L1018.1,631.9L1018.1,630.4L1018.1,628.8L1018.1,627.3L1018.1,625.7L1018.1,624.2L1018.1,622.6L1018.1,621.1L1018.1,619.5L1018.1,618.0L1018.1,616.4L1018.1,614.9L1018.1,613.3L1018.1,611.7L1018.1,610.2L1018.1,608.6L1018.1,607.1L1018.1,605.5L1018.1,604.0L1018.1,602.4L1018.1,600.9L1018.1,599.3L1018.1,597.8L1018.1,596.2L1018.1,594.7L1018.1,593.1L1018.1,591.6L1018.1,590.0"/>
<path d="M931.1,749.1L930.9,747.6L930.7,746.2L930.5,744.7L930.3,743.2L930.2,741.8L930.0,740.3L929.8,738.8L929.7,737.3L929.6,735.8L929.4,734.3L929.3,732.8L929.2,731.3L929.1,729.8L929.1,728.3L929.0,726.7L928.9,725.2L928.9,723.7L928.8,722.2L928.8,720.6L928.8,719.1L928.7,717.6L928.7,716.0L928.8,714.5L928.8,713.0L928.8,711.4L928.8,709.9L928.9,708.3L929.0,706.8L929.0,705.2L929.1,703.7L929.2,702.1L929.3,700.6L929.4,699.1L929.5,697.5L929.7,696.0L929.8,694.4L930.0,692.9L930.2,691.3L930.4,689.8L930.6,688.3L930.8,686.7L931.0,685.2L931.2,683.6L931.5,682.1L931.7,680.6L932.0,679.1L932.3,677.5L932.5,676.0L932.8,674.5L933.2,673.0L933.5,671.5L933.8,670.0L934.2,668.5L934.6,667.0L934.9,665.5L935.3,664.0L935.7,662.5L936.1,661.0L936.6,659.5L937.0,658.1L937.5,656.6L937.9,655.2L938.4,653.7L938.9,652.3L939.4,650.8L939.9,649.4L940.5,648.0L941.0,646.5L941.6,645.1L942.2,643.7L942.8,642.3L943.4,640.9L944.0,639.5L944.6,638.2L945.3,636.8L945.9,635.4L946.6,634.1L947.3,632.7L948.0,631.4L948.7,630.1L949.4,628.8L950.2,627.5L950.9,626.2L951.7,624.9L952.5,623.6L953.3,622.3L954.1,621.1L954.9,619.8L955.8,618.6L956.7,617.4L957.5,616.2L958.4,615.0L959.3,613.8L960.3,612.6L961.2,611.4L962.2,610.3L963.1,609.1L964.1,608.0L965.1,606.9L966.1,605.8L967.2,604.7L968.2,603.6L969.3,602.5L970.4,601.5L971.5,600.4L972.6,599.4L973.7,598.4L974.8,597.4L976.0,596.4L977.2,595.5L978.4,594.5L979.6,593.6L980.8,592.7L982.1,591.8L983.3,590.9L984.6,590.0"/>
<path d="M951.0,749.1L952.0,747.9L953.0,746.7L953.9,745.5L954.9,744.3L955.9,743.0L956.8,741.8L957.7,740.6L958.7,739.3L959.6,738.1L960.5,736.8L961.4,735.6L962.4,734.3L963.3,733.0L964.2,731.8L965.1,730.5L966.0,729.2L966.9,728.0L967.7,726.7L968.6,725.4L969.5,724.1L970.4,722.8L971.3,721.6L972.2,720.3L973.1,719.0L974.0,717.7L974.9,716.4L975.7,715.2L976.6,713.9L977.5,712.6L978.4,711.3L979.3,710.1L980.3,708.8L981.2,707.6L982.1,706.3L983.0,705.1L984.0,703.8L984.9,702.6L985.8,701.3L986.8,700.1L987.8,698.9L988.7,697.7L989.7,696.5L990.7,695.3L991.7,694.1L992.7,692.9L993.7,691.7L994.8,690.6L995.8,689.4"/>
<path d="M1052.2,749.1L1051.6,747.6L1051.1,746.2L1050.5,744.7L1049.9,743.2L1049.4,741.8L1048.8,740.3L1048.2,738.8L1047.7,737.4L1047.1,735.9L1046.5,734.5L1045.9,733.0L1045.4,731.5L1044.8,730.1L1044.2,728.6L1043.6,727.2L1043.0,725.7L1042.5,724.2L1041.9,722.8L1041.3,721.3L1040.7,719.9L1040.1,718.4L1039.5,717.0L1038.9,715.5L1038.3,714.1L1037.7,712.6L1037.2,711.1L1036.6,709.7L1036.0,708.2L1035.4,706.8L1034.8,705.3L1034.2,703.9L1033.6,702.4L1033.0,701.0L1032.4,699.5L1031.8,698.1L1031.1,696.6L1030.5,695.2L1029.9,693.7L1029.3,692.3L1028.7,690.8L1028.1,689.4"/>
</g>
<polygon points="958.50,53.90 956.16,61.62 951.82,58.41" fill="#000" stroke="#000" stroke-width="1.1"/>
<polygon points="996.70,114.50 996.59,100.84 1004.60,103.36" fill="#fff" stroke="#000" stroke-width="1.1"/>
<polygon points="932.80,139.80 919.80,144.00 919.80,135.60" fill="#fff" stroke="#000" stroke-width="1.1"/>
<polygon points="932.80,145.50 925.32,148.52 925.09,143.13" fill="#000" stroke="#000" stroke-width="1.1"/>
<polygon points="919.00,347.70 911.50,350.66 911.31,345.26" fill="#000" stroke="#000" stroke-width="1.1"/>
<polygon points="932.40,161.70 921.85,170.39 918.77,162.57" fill="#fff" stroke="#000" stroke-width="1.1"/>
<polygon points="960.20,163.20 953.72,175.23 947.91,169.17" fill="#fff" stroke="#000" stroke-width="1.1"/>
<polygon points="983.10,163.20 986.61,176.40 978.22,175.96" fill="#fff" stroke="#000" stroke-width="1.1"/>
<polygon points="1003.60,163.20 1014.66,171.21 1007.89,176.17" fill="#fff" stroke="#000" stroke-width="1.1"/>
<polygon points="1027.90,163.20 1041.33,165.71 1037.32,173.10" fill="#fff" stroke="#000" stroke-width="1.1"/>
<polygon points="1036.80,144.60 1050.22,142.04 1049.18,150.38" fill="#fff" stroke="#000" stroke-width="1.1"/>
<polygon points="1036.80,144.60 1050.22,142.04 1049.18,150.38" fill="#fff" stroke="#000" stroke-width="1.1"/>
<polygon points="631.10,262.00 633.70,269.63 628.31,269.57" fill="#000" stroke="#000" stroke-width="1.1"/>
<polygon points="679.70,261.80 687.19,264.79 683.62,268.85" fill="#000" stroke="#000" stroke-width="1.1"/>
<polygon points="790.00,261.80 796.69,266.30 792.35,269.52" fill="#000" stroke="#000" stroke-width="1.1"/>
<polygon points="892.60,261.80 898.64,267.14 893.92,269.76" fill="#000" stroke="#000" stroke-width="1.1"/>
<polygon points="1043.70,261.90 1040.82,269.44 1036.71,265.93" fill="#000" stroke="#000" stroke-width="1.1"/>
<polygon points="1135.30,262.30 1131.44,269.38 1127.84,265.36" fill="#000" stroke="#000" stroke-width="1.1"/>
<polygon points="1171.80,261.80 1176.41,268.42 1171.21,269.84" fill="#000" stroke="#000" stroke-width="1.1"/>
<polygon points="1029.50,337.50 1037.14,334.91 1037.06,340.31" fill="#000" stroke="#000" stroke-width="1.1"/>
<polygon points="919.00,347.70 911.50,350.66 911.31,345.26" fill="#000" stroke="#000" stroke-width="1.1"/>
<polygon points="918.70,356.00 906.14,361.37 905.37,353.00" fill="#fff" stroke="#000" stroke-width="1.1"/>
<polygon points="918.00,368.40 907.83,377.52 904.41,369.84" fill="#fff" stroke="#000" stroke-width="1.1"/>
<polygon points="966.00,371.70 968.70,379.30 963.30,379.30" fill="#000" stroke="#000" stroke-width="1.1"/>
<polygon points="1008.20,371.70 1019.99,378.59 1013.73,384.19" fill="#fff" stroke="#000" stroke-width="1.1"/>
<polygon points="1029.50,356.20 1037.45,354.85 1036.52,360.17" fill="#000" stroke="#000" stroke-width="1.1"/>
<polygon points="1029.50,353.60 1037.35,351.77 1036.75,357.13" fill="#000" stroke="#000" stroke-width="1.1"/>
<polygon points="1029.50,350.50 1037.20,348.09 1036.99,353.48" fill="#000" stroke="#000" stroke-width="1.1"/>
<polygon points="1016.20,372.30 1029.51,375.37 1025.20,382.58" fill="#fff" stroke="#000" stroke-width="1.1"/>
<polygon points="1029.50,354.90 1037.28,352.78 1036.88,358.16" fill="#000" stroke="#000" stroke-width="1.1"/>
<polygon points="955.60,371.70 954.33,379.66 949.59,377.08" fill="#000" stroke="#000" stroke-width="1.1"/>
<polygon points="612.40,457.60 599.54,462.20 599.28,453.80" fill="#fff" stroke="#000" stroke-width="1.1"/>
<polygon points="612.00,461.00 604.47,463.89 604.33,458.49" fill="#000" stroke="#000" stroke-width="1.1"/>
<polygon points="612.00,459.00 604.47,461.89 604.33,456.49" fill="#000" stroke="#000" stroke-width="1.1"/>
<polygon points="612.00,468.50 604.83,472.19 604.11,466.84" fill="#000" stroke="#000" stroke-width="1.1"/>
<polygon points="633.10,481.00 627.95,487.21 625.19,482.57" fill="#000" stroke="#000" stroke-width="1.1"/>
<polygon points="640.90,481.50 636.28,488.11 633.15,483.72" fill="#000" stroke="#000" stroke-width="1.1"/>
<polygon points="675.20,481.30 677.44,489.05 672.05,488.73" fill="#000" stroke="#000" stroke-width="1.1"/>
<polygon points="705.10,481.00 712.51,484.18 708.84,488.14" fill="#000" stroke="#000" stroke-width="1.1"/>
<polygon points="740.60,465.50 748.36,463.32 748.00,468.71" fill="#000" stroke="#000" stroke-width="1.1"/>
<polygon points="740.20,464.30 753.51,461.22 752.80,469.59" fill="#fff" stroke="#000" stroke-width="1.1"/>
<polygon points="740.60,464.00 748.37,461.84 747.99,467.23" fill="#000" stroke="#000" stroke-width="1.1"/>
<polygon points="740.20,465.00 748.00,462.94 747.55,468.32" fill="#000" stroke="#000" stroke-width="1.1"/>
<polygon points="264.20,590.60 261.42,603.98 254.12,599.82" fill="#fff" stroke="#000" stroke-width="1.1"/>
<polygon points="302.70,590.60 314.83,596.89 308.85,602.80" fill="#fff" stroke="#000" stroke-width="1.1"/>
<polygon points="331.80,585.60 345.46,585.62 342.87,593.61" fill="#fff" stroke="#000" stroke-width="1.1"/>
<polygon points="332.20,587.30 345.72,585.31 344.33,593.59" fill="#fff" stroke="#000" stroke-width="1.1"/>
<polygon points="1018.10,590.00 1022.30,603.00 1013.90,603.00" fill="#fff" stroke="#000" stroke-width="1.1"/>
<polygon points="984.60,590.00 977.02,601.36 971.80,594.78" fill="#fff" stroke="#000" stroke-width="1.1"/>
<polygon points="995.80,689.40 992.85,696.91 988.78,693.37" fill="#000" stroke="#000" stroke-width="1.1"/>
<polygon points="1028.10,689.40 1033.54,695.36 1028.56,697.45" fill="#000" stroke="#000" stroke-width="1.1"/>
<rect x="935.2" y="5.8" width="98.60" height="47.70" fill="#fff" stroke="#000" stroke-width="1.4"/>
<text x="984.50" y="31.05" text-anchor="middle" class="i">History Change</text>
<rect x="932.75" y="115.4" width="103.75" height="47.50" fill="#fff" stroke="#000" stroke-width="1.4"/>
<text x="984.62" y="140.55" text-anchor="middle" class="i">Managed Object</text>
<rect x="568.8" y="213.9" width="135.90" height="48.00" fill="#fff" stroke="#000" stroke-width="1.4"/>
<text x="636.75" y="240.20" text-anchor="middle">ServiceConnectionPoint</text>
<rect x="729" y="213.9" width="71.80" height="48.00" fill="#fff" stroke="#000" stroke-width="1.4"/>
<text x="764.90" y="240.20" text-anchor="middle">Kpi</text>
<rect x="825.3" y="213.8" width="121.30" height="47.90" fill="#fff" stroke="#000" stroke-width="1.4"/>
<text x="885.95" y="240.05" text-anchor="middle">ScheduledDowntime</text>
<rect x="1022" y="213.8" width="79.70" height="47.90" fill="#fff" stroke="#000" stroke-width="1.4"/>
<text x="1061.85" y="240.05" text-anchor="middle">PolicyResult</text>
<rect x="1126.3" y="213.8" width="71.50" height="47.90" fill="#fff" stroke="#000" stroke-width="1.4"/>
<text x="1162.05" y="240.05" text-anchor="middle">Outage</text>
<rect x="919.3" y="323.4" width="109.40" height="47.90" fill="#fff" stroke="#000" stroke-width="1.4"/>
<text x="974.00" y="348.75" text-anchor="middle" class="i">ConfigurationItem</text>
<rect x="44.3" y="432.2" width="72.30" height="48.10" fill="#fff" stroke="#000" stroke-width="1.4"/>
<text x="80.45" y="458.55" text-anchor="middle">Tenant</text>
<rect x="612.4" y="432.5" width="128.00" height="47.50" fill="#fff" stroke="#000" stroke-width="1.4"/>
<text x="676.40" y="457.65" text-anchor="middle" class="i">InfrastructureElement</text>
<rect x="1004.4" y="432.5" width="72.20" height="47.80" fill="#fff" stroke="#000" stroke-width="1.4"/>
<text x="1040.50" y="458.70" text-anchor="middle">Location</text>
<rect x="1259.2" y="432.5" width="72.10" height="47.80" fill="#fff" stroke="#000" stroke-width="1.4"/>
<text x="1295.25" y="458.70" text-anchor="middle">Asset</text>
<rect x="1362.5" y="432.5" width="105.20" height="47.80" fill="#fff" stroke="#000" stroke-width="1.4"/>
<text x="1415.10" y="457.80" text-anchor="middle" class="i">ItProcessRecord</text>
<rect x="5.1" y="541.5" width="113.70" height="48.10" fill="#fff" stroke="#000" stroke-width="1.4"/>
<text x="61.95" y="566.95" text-anchor="middle" class="i">ApplicationSystem</text>
<rect x="223.6" y="541.5" width="108.50" height="48.10" fill="#fff" stroke="#000" stroke-width="1.4"/>
<text x="277.85" y="566.95" text-anchor="middle" class="i">BusinessElement</text>
<rect x="733.2" y="541.8" width="135.00" height="47.80" fill="#fff" stroke="#000" stroke-width="1.4"/>
<text x="800.70" y="568.00" text-anchor="middle">ClusterResourceConfig</text>
<rect x="973.5" y="541.8" width="89.30" height="47.80" fill="#fff" stroke="#000" stroke-width="1.4"/>
<text x="1018.15" y="567.10" text-anchor="middle" class="i">NetworkEntity</text>
<rect x="1137.9" y="541.8" width="77.30" height="47.80" fill="#fff" stroke="#000" stroke-width="1.4"/>
<text x="1176.55" y="568.00" text-anchor="middle">CiCollection</text>
<rect x="170.75" y="640.4" width="102.65" height="48.20" fill="#fff" stroke="#000" stroke-width="1.4"/>
<text x="222.07" y="666.80" text-anchor="middle">BusinessActivity</text>
<rect x="344.4" y="640.4" width="72.40" height="48.20" fill="#fff" stroke="#000" stroke-width="1.4"/>
<text x="380.60" y="665.90" text-anchor="middle" class="i">Service</text>
<rect x="508.6" y="640.4" width="120.00" height="48.20" fill="#fff" stroke="#000" stroke-width="1.4"/>
<text x="568.60" y="666.80" text-anchor="middle">BusinessApplication</text>
<rect x="722.5" y="640.6" width="124.30" height="48.10" fill="#fff" stroke="#000" stroke-width="1.4"/>
<text x="784.65" y="666.95" text-anchor="middle">BusinessTransaction</text>
<rect x="954.6" y="640.6" width="126.90" height="48.10" fill="#dcdcff" stroke="#000" stroke-width="1.4"/>
<text x="1018.05" y="666.95" text-anchor="middle">MainframeXcfMember</text>
<rect x="875.8" y="749.9" width="119.20" height="48.10" fill="#fff" stroke="#000" stroke-width="1.4"/>
<text x="935.40" y="776.25" text-anchor="middle">MainframeXcfGroup</text>
<rect x="1025.9" y="749.9" width="72.10" height="48.10" fill="#fff" stroke="#000" stroke-width="1.4"/>
<text x="1061.95" y="776.25" text-anchor="middle">Node</text>
<text x="974.8" y="87.0" text-anchor="middle">History Link</text>
<text x="291.3" y="295.0" text-anchor="middle">Connection</text>
<text x="152.5" y="404.8" text-anchor="middle">Connection</text>
<text x="667.7" y="295.0" text-anchor="middle">Composition</text>
<text x="789.2" y="295.0" text-anchor="middle">Ownership</text>
<text x="869.4" y="295.0" text-anchor="middle">Composition</text>
<text x="937.6" y="295.0" text-anchor="middle">Connection</text>
<text x="1049.9" y="295.0" text-anchor="middle">Aggregation</text>
<text x="1133.2" y="295.0" text-anchor="middle">Composition</text>
<text x="1200.8" y="295.0" text-anchor="middle">Connection</text>
<text x="1097.2" y="349.8" text-anchor="middle">ConsumerProvider</text>
<text x="998" y="405.2" text-anchor="middle">Membership</text>
<text x="1235" y="404.8" text-anchor="middle">Connection</text>
<text x="1332.3" y="404.8" text-anchor="middle">Connection</text>
<text x="1409.2" y="404.8" text-anchor="middle">Membership</text>
<text x="1201.8" y="459.2" text-anchor="middle">Containment</text>
<text x="962.5" y="459.2" text-anchor="middle">Membership</text>
<text x="315.2" y="459.3" text-anchor="middle">Aggregation</text>
<text x="344.5" y="514.0" text-anchor="middle">Usage</text>
<text x="193.8" y="568.8" text-anchor="middle">Usage</text>
<text x="427.8" y="568.8" text-anchor="middle">Containment</text>
<text x="549.6" y="568.8" text-anchor="middle">Usage</text>
<text x="616" y="568.8" text-anchor="middle">Containment</text>
<text x="680.7" y="568.8" text-anchor="middle">Usage</text>
<text x="772.3" y="514.1" text-anchor="middle">Dependency</text>
<text x="901.8" y="569.0999999999999" text-anchor="middle">Usage</text>
<text x="1045" y="514.1999999999999" text-anchor="middle">Usage</text>
<text x="1003.2" y="721.8" text-anchor="middle">Composition</text>
<text x="1071.1" y="721.8" text-anchor="middle">Containment</text>
</svg></body></html>
